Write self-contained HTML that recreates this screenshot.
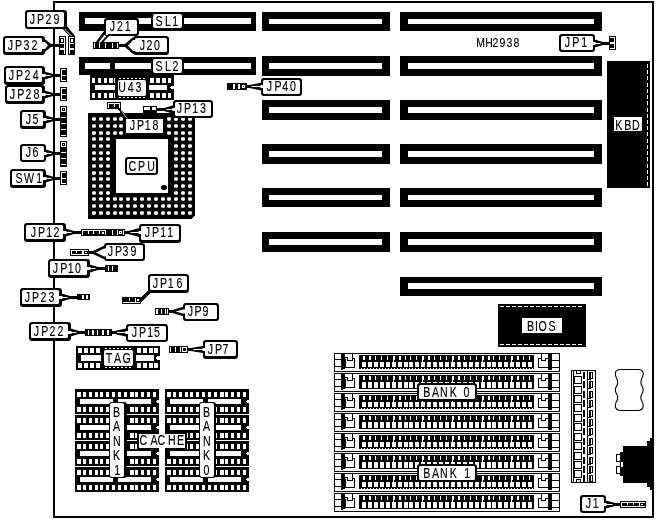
<!DOCTYPE html>
<html><head><meta charset="utf-8"><title>MH2938</title>
<style>
html,body{margin:0;padding:0;background:#fff;}
svg{display:block;will-change:transform;}
text{font-family:"Liberation Sans",sans-serif;fill:#000;stroke:#000;stroke-width:0.15px;}
</style></head>
<body>
<svg width="656" height="520" viewBox="0 0 656 520" shape-rendering="crispEdges">
<rect x="0" y="0" width="656" height="520" fill="#fff"/>
<rect x="53" y="1" width="601" height="2" fill="#000"/>
<rect x="53" y="516" width="601" height="2" fill="#000"/>
<rect x="53" y="1" width="2" height="517" fill="#000"/>
<rect x="652" y="1" width="2" height="517" fill="#000"/>
<rect x="262" y="12" width="128" height="19" fill="#000"/>
<rect x="269" y="19" width="113" height="5" fill="#fff"/>
<rect x="262" y="56" width="128" height="20" fill="#000"/>
<rect x="269" y="63" width="113" height="6" fill="#fff"/>
<rect x="262" y="100" width="128" height="20" fill="#000"/>
<rect x="269" y="107" width="113" height="6" fill="#fff"/>
<rect x="262" y="144" width="128" height="20" fill="#000"/>
<rect x="269" y="151" width="113" height="6" fill="#fff"/>
<rect x="262" y="188" width="128" height="19" fill="#000"/>
<rect x="269" y="195" width="113" height="5" fill="#fff"/>
<rect x="262" y="232" width="128" height="20" fill="#000"/>
<rect x="269" y="239" width="113" height="6" fill="#fff"/>
<rect x="400" y="12" width="202" height="19" fill="#000"/>
<rect x="408" y="19" width="186" height="5" fill="#fff"/>
<rect x="400" y="56" width="202" height="20" fill="#000"/>
<rect x="408" y="63" width="186" height="6" fill="#fff"/>
<rect x="400" y="100" width="202" height="20" fill="#000"/>
<rect x="408" y="107" width="186" height="6" fill="#fff"/>
<rect x="400" y="144" width="202" height="20" fill="#000"/>
<rect x="408" y="151" width="186" height="6" fill="#fff"/>
<rect x="400" y="188" width="202" height="19" fill="#000"/>
<rect x="408" y="195" width="186" height="5" fill="#fff"/>
<rect x="400" y="232" width="202" height="20" fill="#000"/>
<rect x="408" y="239" width="186" height="6" fill="#fff"/>
<rect x="400" y="277" width="202" height="19" fill="#000"/>
<rect x="408" y="283" width="186" height="6" fill="#fff"/>
<rect x="79" y="12" width="177" height="19" fill="#000"/>
<rect x="85" y="18" width="166" height="6" fill="#fff"/>
<rect x="79" y="57" width="177" height="18" fill="#000"/>
<rect x="85" y="63" width="166" height="6" fill="#fff"/>
<rect x="110" y="63" width="5" height="6" fill="#000"/>
<rect x="90" y="75" width="84" height="25" fill="#000"/>
<rect x="92" y="78" width="3" height="5" fill="#fff"/>
<rect x="92" y="93" width="3" height="5" fill="#fff"/>
<rect x="98" y="78" width="3" height="5" fill="#fff"/>
<rect x="98" y="93" width="3" height="5" fill="#fff"/>
<rect x="104" y="78" width="3" height="5" fill="#fff"/>
<rect x="104" y="93" width="3" height="5" fill="#fff"/>
<rect x="109" y="78" width="4" height="5" fill="#fff"/>
<rect x="109" y="93" width="4" height="5" fill="#fff"/>
<rect x="114" y="78" width="3" height="5" fill="#fff"/>
<rect x="114" y="93" width="3" height="5" fill="#fff"/>
<rect x="120" y="78" width="3" height="5" fill="#fff"/>
<rect x="120" y="93" width="3" height="5" fill="#fff"/>
<rect x="126" y="78" width="3" height="5" fill="#fff"/>
<rect x="126" y="93" width="3" height="5" fill="#fff"/>
<rect x="132" y="78" width="3" height="5" fill="#fff"/>
<rect x="132" y="93" width="3" height="5" fill="#fff"/>
<rect x="138" y="78" width="3" height="5" fill="#fff"/>
<rect x="138" y="93" width="3" height="5" fill="#fff"/>
<rect x="144" y="78" width="3" height="5" fill="#fff"/>
<rect x="144" y="93" width="3" height="5" fill="#fff"/>
<rect x="150" y="78" width="4" height="5" fill="#fff"/>
<rect x="150" y="93" width="4" height="5" fill="#fff"/>
<rect x="156" y="78" width="4" height="5" fill="#fff"/>
<rect x="156" y="93" width="4" height="5" fill="#fff"/>
<rect x="162" y="78" width="4" height="5" fill="#fff"/>
<rect x="162" y="93" width="4" height="5" fill="#fff"/>
<rect x="168" y="78" width="3" height="5" fill="#fff"/>
<rect x="168" y="93" width="3" height="5" fill="#fff"/>
<rect x="95" y="85" width="72" height="5" fill="#fff"/>
<rect x="171" y="86" width="3" height="3" fill="#fff"/>
<rect x="170" y="87" width="1" height="1" fill="#fff"/>
<polygon points="88,113 195,113 195,215 191,219 88,219" fill="#000"/>
<rect x="92.1" y="117.2" width="3.8" height="3.6" rx="1.2" fill="#fff" shape-rendering="geometricPrecision"/>
<rect x="92.1" y="124.2" width="3.8" height="3.6" rx="1.2" fill="#fff" shape-rendering="geometricPrecision"/>
<rect x="92.1" y="131.2" width="3.8" height="3.6" rx="1.2" fill="#fff" shape-rendering="geometricPrecision"/>
<rect x="92.1" y="137.2" width="3.8" height="3.6" rx="1.2" fill="#fff" shape-rendering="geometricPrecision"/>
<rect x="92.1" y="144.2" width="3.8" height="3.6" rx="1.2" fill="#fff" shape-rendering="geometricPrecision"/>
<rect x="92.1" y="151.2" width="3.8" height="3.6" rx="1.2" fill="#fff" shape-rendering="geometricPrecision"/>
<rect x="92.1" y="157.2" width="3.8" height="3.6" rx="1.2" fill="#fff" shape-rendering="geometricPrecision"/>
<rect x="92.1" y="164.2" width="3.8" height="3.6" rx="1.2" fill="#fff" shape-rendering="geometricPrecision"/>
<rect x="92.1" y="171.2" width="3.8" height="3.6" rx="1.2" fill="#fff" shape-rendering="geometricPrecision"/>
<rect x="92.1" y="177.2" width="3.8" height="3.6" rx="1.2" fill="#fff" shape-rendering="geometricPrecision"/>
<rect x="92.1" y="184.2" width="3.8" height="3.6" rx="1.2" fill="#fff" shape-rendering="geometricPrecision"/>
<rect x="92.1" y="191.2" width="3.8" height="3.6" rx="1.2" fill="#fff" shape-rendering="geometricPrecision"/>
<rect x="92.1" y="197.2" width="3.8" height="3.6" rx="1.2" fill="#fff" shape-rendering="geometricPrecision"/>
<rect x="92.1" y="204.2" width="3.8" height="3.6" rx="1.2" fill="#fff" shape-rendering="geometricPrecision"/>
<rect x="92.1" y="211.2" width="3.8" height="3.6" rx="1.2" fill="#fff" shape-rendering="geometricPrecision"/>
<rect x="99.1" y="117.2" width="3.8" height="3.6" rx="1.2" fill="#fff" shape-rendering="geometricPrecision"/>
<rect x="99.1" y="124.2" width="3.8" height="3.6" rx="1.2" fill="#fff" shape-rendering="geometricPrecision"/>
<rect x="99.1" y="131.2" width="3.8" height="3.6" rx="1.2" fill="#fff" shape-rendering="geometricPrecision"/>
<rect x="99.1" y="137.2" width="3.8" height="3.6" rx="1.2" fill="#fff" shape-rendering="geometricPrecision"/>
<rect x="99.1" y="144.2" width="3.8" height="3.6" rx="1.2" fill="#fff" shape-rendering="geometricPrecision"/>
<rect x="99.1" y="151.2" width="3.8" height="3.6" rx="1.2" fill="#fff" shape-rendering="geometricPrecision"/>
<rect x="99.1" y="157.2" width="3.8" height="3.6" rx="1.2" fill="#fff" shape-rendering="geometricPrecision"/>
<rect x="99.1" y="164.2" width="3.8" height="3.6" rx="1.2" fill="#fff" shape-rendering="geometricPrecision"/>
<rect x="99.1" y="171.2" width="3.8" height="3.6" rx="1.2" fill="#fff" shape-rendering="geometricPrecision"/>
<rect x="99.1" y="177.2" width="3.8" height="3.6" rx="1.2" fill="#fff" shape-rendering="geometricPrecision"/>
<rect x="99.1" y="184.2" width="3.8" height="3.6" rx="1.2" fill="#fff" shape-rendering="geometricPrecision"/>
<rect x="99.1" y="191.2" width="3.8" height="3.6" rx="1.2" fill="#fff" shape-rendering="geometricPrecision"/>
<rect x="99.1" y="197.2" width="3.8" height="3.6" rx="1.2" fill="#fff" shape-rendering="geometricPrecision"/>
<rect x="99.1" y="204.2" width="3.8" height="3.6" rx="1.2" fill="#fff" shape-rendering="geometricPrecision"/>
<rect x="99.1" y="211.2" width="3.8" height="3.6" rx="1.2" fill="#fff" shape-rendering="geometricPrecision"/>
<rect x="106.1" y="117.2" width="3.8" height="3.6" rx="1.2" fill="#fff" shape-rendering="geometricPrecision"/>
<rect x="106.1" y="124.2" width="3.8" height="3.6" rx="1.2" fill="#fff" shape-rendering="geometricPrecision"/>
<rect x="106.1" y="131.2" width="3.8" height="3.6" rx="1.2" fill="#fff" shape-rendering="geometricPrecision"/>
<rect x="106.1" y="137.2" width="3.8" height="3.6" rx="1.2" fill="#fff" shape-rendering="geometricPrecision"/>
<rect x="106.1" y="144.2" width="3.8" height="3.6" rx="1.2" fill="#fff" shape-rendering="geometricPrecision"/>
<rect x="106.1" y="151.2" width="3.8" height="3.6" rx="1.2" fill="#fff" shape-rendering="geometricPrecision"/>
<rect x="106.1" y="157.2" width="3.8" height="3.6" rx="1.2" fill="#fff" shape-rendering="geometricPrecision"/>
<rect x="106.1" y="164.2" width="3.8" height="3.6" rx="1.2" fill="#fff" shape-rendering="geometricPrecision"/>
<rect x="106.1" y="171.2" width="3.8" height="3.6" rx="1.2" fill="#fff" shape-rendering="geometricPrecision"/>
<rect x="106.1" y="177.2" width="3.8" height="3.6" rx="1.2" fill="#fff" shape-rendering="geometricPrecision"/>
<rect x="106.1" y="184.2" width="3.8" height="3.6" rx="1.2" fill="#fff" shape-rendering="geometricPrecision"/>
<rect x="106.1" y="191.2" width="3.8" height="3.6" rx="1.2" fill="#fff" shape-rendering="geometricPrecision"/>
<rect x="106.1" y="197.2" width="3.8" height="3.6" rx="1.2" fill="#fff" shape-rendering="geometricPrecision"/>
<rect x="106.1" y="204.2" width="3.8" height="3.6" rx="1.2" fill="#fff" shape-rendering="geometricPrecision"/>
<rect x="106.1" y="211.2" width="3.8" height="3.6" rx="1.2" fill="#fff" shape-rendering="geometricPrecision"/>
<rect x="113.1" y="117.2" width="3.8" height="3.6" rx="1.2" fill="#fff" shape-rendering="geometricPrecision"/>
<rect x="113.1" y="124.2" width="3.8" height="3.6" rx="1.2" fill="#fff" shape-rendering="geometricPrecision"/>
<rect x="113.1" y="131.2" width="3.8" height="3.6" rx="1.2" fill="#fff" shape-rendering="geometricPrecision"/>
<rect x="113.1" y="197.2" width="3.8" height="3.6" rx="1.2" fill="#fff" shape-rendering="geometricPrecision"/>
<rect x="113.1" y="204.2" width="3.8" height="3.6" rx="1.2" fill="#fff" shape-rendering="geometricPrecision"/>
<rect x="113.1" y="211.2" width="3.8" height="3.6" rx="1.2" fill="#fff" shape-rendering="geometricPrecision"/>
<rect x="119.1" y="117.2" width="3.8" height="3.6" rx="1.2" fill="#fff" shape-rendering="geometricPrecision"/>
<rect x="119.1" y="124.2" width="3.8" height="3.6" rx="1.2" fill="#fff" shape-rendering="geometricPrecision"/>
<rect x="119.1" y="131.2" width="3.8" height="3.6" rx="1.2" fill="#fff" shape-rendering="geometricPrecision"/>
<rect x="119.1" y="197.2" width="3.8" height="3.6" rx="1.2" fill="#fff" shape-rendering="geometricPrecision"/>
<rect x="119.1" y="204.2" width="3.8" height="3.6" rx="1.2" fill="#fff" shape-rendering="geometricPrecision"/>
<rect x="119.1" y="211.2" width="3.8" height="3.6" rx="1.2" fill="#fff" shape-rendering="geometricPrecision"/>
<rect x="126.1" y="117.2" width="3.8" height="3.6" rx="1.2" fill="#fff" shape-rendering="geometricPrecision"/>
<rect x="126.1" y="124.2" width="3.8" height="3.6" rx="1.2" fill="#fff" shape-rendering="geometricPrecision"/>
<rect x="126.1" y="131.2" width="3.8" height="3.6" rx="1.2" fill="#fff" shape-rendering="geometricPrecision"/>
<rect x="126.1" y="197.2" width="3.8" height="3.6" rx="1.2" fill="#fff" shape-rendering="geometricPrecision"/>
<rect x="126.1" y="204.2" width="3.8" height="3.6" rx="1.2" fill="#fff" shape-rendering="geometricPrecision"/>
<rect x="126.1" y="211.2" width="3.8" height="3.6" rx="1.2" fill="#fff" shape-rendering="geometricPrecision"/>
<rect x="133.1" y="117.2" width="3.8" height="3.6" rx="1.2" fill="#fff" shape-rendering="geometricPrecision"/>
<rect x="133.1" y="124.2" width="3.8" height="3.6" rx="1.2" fill="#fff" shape-rendering="geometricPrecision"/>
<rect x="133.1" y="131.2" width="3.8" height="3.6" rx="1.2" fill="#fff" shape-rendering="geometricPrecision"/>
<rect x="133.1" y="197.2" width="3.8" height="3.6" rx="1.2" fill="#fff" shape-rendering="geometricPrecision"/>
<rect x="133.1" y="204.2" width="3.8" height="3.6" rx="1.2" fill="#fff" shape-rendering="geometricPrecision"/>
<rect x="133.1" y="211.2" width="3.8" height="3.6" rx="1.2" fill="#fff" shape-rendering="geometricPrecision"/>
<rect x="140.1" y="117.2" width="3.8" height="3.6" rx="1.2" fill="#fff" shape-rendering="geometricPrecision"/>
<rect x="140.1" y="124.2" width="3.8" height="3.6" rx="1.2" fill="#fff" shape-rendering="geometricPrecision"/>
<rect x="140.1" y="131.2" width="3.8" height="3.6" rx="1.2" fill="#fff" shape-rendering="geometricPrecision"/>
<rect x="140.1" y="197.2" width="3.8" height="3.6" rx="1.2" fill="#fff" shape-rendering="geometricPrecision"/>
<rect x="140.1" y="204.2" width="3.8" height="3.6" rx="1.2" fill="#fff" shape-rendering="geometricPrecision"/>
<rect x="140.1" y="211.2" width="3.8" height="3.6" rx="1.2" fill="#fff" shape-rendering="geometricPrecision"/>
<rect x="147.1" y="117.2" width="3.8" height="3.6" rx="1.2" fill="#fff" shape-rendering="geometricPrecision"/>
<rect x="147.1" y="124.2" width="3.8" height="3.6" rx="1.2" fill="#fff" shape-rendering="geometricPrecision"/>
<rect x="147.1" y="131.2" width="3.8" height="3.6" rx="1.2" fill="#fff" shape-rendering="geometricPrecision"/>
<rect x="147.1" y="197.2" width="3.8" height="3.6" rx="1.2" fill="#fff" shape-rendering="geometricPrecision"/>
<rect x="147.1" y="204.2" width="3.8" height="3.6" rx="1.2" fill="#fff" shape-rendering="geometricPrecision"/>
<rect x="147.1" y="211.2" width="3.8" height="3.6" rx="1.2" fill="#fff" shape-rendering="geometricPrecision"/>
<rect x="154.1" y="117.2" width="3.8" height="3.6" rx="1.2" fill="#fff" shape-rendering="geometricPrecision"/>
<rect x="154.1" y="124.2" width="3.8" height="3.6" rx="1.2" fill="#fff" shape-rendering="geometricPrecision"/>
<rect x="154.1" y="131.2" width="3.8" height="3.6" rx="1.2" fill="#fff" shape-rendering="geometricPrecision"/>
<rect x="154.1" y="197.2" width="3.8" height="3.6" rx="1.2" fill="#fff" shape-rendering="geometricPrecision"/>
<rect x="154.1" y="204.2" width="3.8" height="3.6" rx="1.2" fill="#fff" shape-rendering="geometricPrecision"/>
<rect x="154.1" y="211.2" width="3.8" height="3.6" rx="1.2" fill="#fff" shape-rendering="geometricPrecision"/>
<rect x="161.1" y="117.2" width="3.8" height="3.6" rx="1.2" fill="#fff" shape-rendering="geometricPrecision"/>
<rect x="161.1" y="124.2" width="3.8" height="3.6" rx="1.2" fill="#fff" shape-rendering="geometricPrecision"/>
<rect x="161.1" y="131.2" width="3.8" height="3.6" rx="1.2" fill="#fff" shape-rendering="geometricPrecision"/>
<rect x="161.1" y="197.2" width="3.8" height="3.6" rx="1.2" fill="#fff" shape-rendering="geometricPrecision"/>
<rect x="161.1" y="204.2" width="3.8" height="3.6" rx="1.2" fill="#fff" shape-rendering="geometricPrecision"/>
<rect x="161.1" y="211.2" width="3.8" height="3.6" rx="1.2" fill="#fff" shape-rendering="geometricPrecision"/>
<rect x="167.1" y="117.2" width="3.8" height="3.6" rx="1.2" fill="#fff" shape-rendering="geometricPrecision"/>
<rect x="167.1" y="124.2" width="3.8" height="3.6" rx="1.2" fill="#fff" shape-rendering="geometricPrecision"/>
<rect x="167.1" y="131.2" width="3.8" height="3.6" rx="1.2" fill="#fff" shape-rendering="geometricPrecision"/>
<rect x="167.1" y="197.2" width="3.8" height="3.6" rx="1.2" fill="#fff" shape-rendering="geometricPrecision"/>
<rect x="167.1" y="204.2" width="3.8" height="3.6" rx="1.2" fill="#fff" shape-rendering="geometricPrecision"/>
<rect x="167.1" y="211.2" width="3.8" height="3.6" rx="1.2" fill="#fff" shape-rendering="geometricPrecision"/>
<rect x="174.1" y="117.2" width="3.8" height="3.6" rx="1.2" fill="#fff" shape-rendering="geometricPrecision"/>
<rect x="174.1" y="124.2" width="3.8" height="3.6" rx="1.2" fill="#fff" shape-rendering="geometricPrecision"/>
<rect x="174.1" y="131.2" width="3.8" height="3.6" rx="1.2" fill="#fff" shape-rendering="geometricPrecision"/>
<rect x="174.1" y="137.2" width="3.8" height="3.6" rx="1.2" fill="#fff" shape-rendering="geometricPrecision"/>
<rect x="174.1" y="144.2" width="3.8" height="3.6" rx="1.2" fill="#fff" shape-rendering="geometricPrecision"/>
<rect x="174.1" y="151.2" width="3.8" height="3.6" rx="1.2" fill="#fff" shape-rendering="geometricPrecision"/>
<rect x="174.1" y="157.2" width="3.8" height="3.6" rx="1.2" fill="#fff" shape-rendering="geometricPrecision"/>
<rect x="174.1" y="164.2" width="3.8" height="3.6" rx="1.2" fill="#fff" shape-rendering="geometricPrecision"/>
<rect x="174.1" y="171.2" width="3.8" height="3.6" rx="1.2" fill="#fff" shape-rendering="geometricPrecision"/>
<rect x="174.1" y="177.2" width="3.8" height="3.6" rx="1.2" fill="#fff" shape-rendering="geometricPrecision"/>
<rect x="174.1" y="184.2" width="3.8" height="3.6" rx="1.2" fill="#fff" shape-rendering="geometricPrecision"/>
<rect x="174.1" y="191.2" width="3.8" height="3.6" rx="1.2" fill="#fff" shape-rendering="geometricPrecision"/>
<rect x="174.1" y="197.2" width="3.8" height="3.6" rx="1.2" fill="#fff" shape-rendering="geometricPrecision"/>
<rect x="174.1" y="204.2" width="3.8" height="3.6" rx="1.2" fill="#fff" shape-rendering="geometricPrecision"/>
<rect x="174.1" y="211.2" width="3.8" height="3.6" rx="1.2" fill="#fff" shape-rendering="geometricPrecision"/>
<rect x="181.1" y="117.2" width="3.8" height="3.6" rx="1.2" fill="#fff" shape-rendering="geometricPrecision"/>
<rect x="181.1" y="124.2" width="3.8" height="3.6" rx="1.2" fill="#fff" shape-rendering="geometricPrecision"/>
<rect x="181.1" y="131.2" width="3.8" height="3.6" rx="1.2" fill="#fff" shape-rendering="geometricPrecision"/>
<rect x="181.1" y="137.2" width="3.8" height="3.6" rx="1.2" fill="#fff" shape-rendering="geometricPrecision"/>
<rect x="181.1" y="144.2" width="3.8" height="3.6" rx="1.2" fill="#fff" shape-rendering="geometricPrecision"/>
<rect x="181.1" y="151.2" width="3.8" height="3.6" rx="1.2" fill="#fff" shape-rendering="geometricPrecision"/>
<rect x="181.1" y="157.2" width="3.8" height="3.6" rx="1.2" fill="#fff" shape-rendering="geometricPrecision"/>
<rect x="181.1" y="164.2" width="3.8" height="3.6" rx="1.2" fill="#fff" shape-rendering="geometricPrecision"/>
<rect x="181.1" y="171.2" width="3.8" height="3.6" rx="1.2" fill="#fff" shape-rendering="geometricPrecision"/>
<rect x="181.1" y="177.2" width="3.8" height="3.6" rx="1.2" fill="#fff" shape-rendering="geometricPrecision"/>
<rect x="181.1" y="184.2" width="3.8" height="3.6" rx="1.2" fill="#fff" shape-rendering="geometricPrecision"/>
<rect x="181.1" y="191.2" width="3.8" height="3.6" rx="1.2" fill="#fff" shape-rendering="geometricPrecision"/>
<rect x="181.1" y="197.2" width="3.8" height="3.6" rx="1.2" fill="#fff" shape-rendering="geometricPrecision"/>
<rect x="181.1" y="204.2" width="3.8" height="3.6" rx="1.2" fill="#fff" shape-rendering="geometricPrecision"/>
<rect x="181.1" y="211.2" width="3.8" height="3.6" rx="1.2" fill="#fff" shape-rendering="geometricPrecision"/>
<rect x="188.1" y="117.2" width="3.8" height="3.6" rx="1.2" fill="#fff" shape-rendering="geometricPrecision"/>
<rect x="188.1" y="124.2" width="3.8" height="3.6" rx="1.2" fill="#fff" shape-rendering="geometricPrecision"/>
<rect x="188.1" y="131.2" width="3.8" height="3.6" rx="1.2" fill="#fff" shape-rendering="geometricPrecision"/>
<rect x="188.1" y="137.2" width="3.8" height="3.6" rx="1.2" fill="#fff" shape-rendering="geometricPrecision"/>
<rect x="188.1" y="144.2" width="3.8" height="3.6" rx="1.2" fill="#fff" shape-rendering="geometricPrecision"/>
<rect x="188.1" y="151.2" width="3.8" height="3.6" rx="1.2" fill="#fff" shape-rendering="geometricPrecision"/>
<rect x="188.1" y="157.2" width="3.8" height="3.6" rx="1.2" fill="#fff" shape-rendering="geometricPrecision"/>
<rect x="188.1" y="164.2" width="3.8" height="3.6" rx="1.2" fill="#fff" shape-rendering="geometricPrecision"/>
<rect x="188.1" y="171.2" width="3.8" height="3.6" rx="1.2" fill="#fff" shape-rendering="geometricPrecision"/>
<rect x="188.1" y="177.2" width="3.8" height="3.6" rx="1.2" fill="#fff" shape-rendering="geometricPrecision"/>
<rect x="188.1" y="184.2" width="3.8" height="3.6" rx="1.2" fill="#fff" shape-rendering="geometricPrecision"/>
<rect x="188.1" y="191.2" width="3.8" height="3.6" rx="1.2" fill="#fff" shape-rendering="geometricPrecision"/>
<rect x="188.1" y="197.2" width="3.8" height="3.6" rx="1.2" fill="#fff" shape-rendering="geometricPrecision"/>
<rect x="188.1" y="204.2" width="3.8" height="3.6" rx="1.2" fill="#fff" shape-rendering="geometricPrecision"/>
<rect x="188.1" y="211.2" width="3.8" height="3.6" rx="1.2" fill="#fff" shape-rendering="geometricPrecision"/>
<rect x="116" y="139" width="52" height="54" fill="#fff"/>
<ellipse cx="164" cy="187.5" rx="3.1" ry="2.6" fill="#000" shape-rendering="geometricPrecision"/>
<rect x="76" y="346" width="84" height="24" fill="#000"/>
<rect x="78" y="348" width="4" height="5" fill="#fff"/>
<rect x="78" y="363" width="4" height="5" fill="#fff"/>
<rect x="84" y="348" width="4" height="5" fill="#fff"/>
<rect x="84" y="363" width="4" height="5" fill="#fff"/>
<rect x="90" y="348" width="4" height="5" fill="#fff"/>
<rect x="90" y="363" width="4" height="5" fill="#fff"/>
<rect x="96" y="348" width="4" height="5" fill="#fff"/>
<rect x="96" y="363" width="4" height="5" fill="#fff"/>
<rect x="102" y="348" width="3" height="5" fill="#fff"/>
<rect x="102" y="363" width="3" height="5" fill="#fff"/>
<rect x="108" y="348" width="3" height="5" fill="#fff"/>
<rect x="108" y="363" width="3" height="5" fill="#fff"/>
<rect x="114" y="348" width="3" height="5" fill="#fff"/>
<rect x="114" y="363" width="3" height="5" fill="#fff"/>
<rect x="120" y="348" width="3" height="5" fill="#fff"/>
<rect x="120" y="363" width="3" height="5" fill="#fff"/>
<rect x="126" y="348" width="3" height="5" fill="#fff"/>
<rect x="126" y="363" width="3" height="5" fill="#fff"/>
<rect x="131" y="348" width="4" height="5" fill="#fff"/>
<rect x="131" y="363" width="4" height="5" fill="#fff"/>
<rect x="137" y="348" width="4" height="5" fill="#fff"/>
<rect x="137" y="363" width="4" height="5" fill="#fff"/>
<rect x="143" y="348" width="4" height="5" fill="#fff"/>
<rect x="143" y="363" width="4" height="5" fill="#fff"/>
<rect x="149" y="348" width="4" height="5" fill="#fff"/>
<rect x="149" y="363" width="4" height="5" fill="#fff"/>
<rect x="154" y="348" width="4" height="5" fill="#fff"/>
<rect x="154" y="363" width="4" height="5" fill="#fff"/>
<rect x="81" y="355" width="73" height="6" fill="#fff"/>
<rect x="157" y="356" width="3" height="4" fill="#fff"/>
<rect x="156" y="357" width="1" height="2" fill="#fff"/>
<rect x="75" y="389" width="84" height="25" fill="#000"/>
<rect x="77" y="392" width="4" height="5" fill="#fff"/>
<rect x="77" y="407" width="4" height="5" fill="#fff"/>
<rect x="83" y="392" width="3" height="5" fill="#fff"/>
<rect x="83" y="407" width="3" height="5" fill="#fff"/>
<rect x="89" y="392" width="3" height="5" fill="#fff"/>
<rect x="89" y="407" width="3" height="5" fill="#fff"/>
<rect x="95" y="392" width="3" height="5" fill="#fff"/>
<rect x="95" y="407" width="3" height="5" fill="#fff"/>
<rect x="100" y="392" width="3" height="5" fill="#fff"/>
<rect x="100" y="407" width="3" height="5" fill="#fff"/>
<rect x="106" y="392" width="3" height="5" fill="#fff"/>
<rect x="106" y="407" width="3" height="5" fill="#fff"/>
<rect x="112" y="392" width="3" height="5" fill="#fff"/>
<rect x="112" y="407" width="3" height="5" fill="#fff"/>
<rect x="118" y="392" width="3" height="5" fill="#fff"/>
<rect x="118" y="407" width="3" height="5" fill="#fff"/>
<rect x="124" y="392" width="3" height="5" fill="#fff"/>
<rect x="124" y="407" width="3" height="5" fill="#fff"/>
<rect x="130" y="392" width="4" height="5" fill="#fff"/>
<rect x="130" y="407" width="4" height="5" fill="#fff"/>
<rect x="135" y="392" width="3" height="5" fill="#fff"/>
<rect x="135" y="407" width="3" height="5" fill="#fff"/>
<rect x="141" y="392" width="3" height="5" fill="#fff"/>
<rect x="141" y="407" width="3" height="5" fill="#fff"/>
<rect x="147" y="392" width="3" height="5" fill="#fff"/>
<rect x="147" y="407" width="3" height="5" fill="#fff"/>
<rect x="153" y="392" width="3" height="5" fill="#fff"/>
<rect x="153" y="407" width="3" height="5" fill="#fff"/>
<rect x="80" y="399" width="33" height="5" fill="#fff"/>
<rect x="118" y="399" width="33" height="5" fill="#fff"/>
<polygon points="159,399.5 157,400 156,401.5 157,403 159,403.5" fill="#fff"/>
<rect x="75" y="415" width="84" height="25" fill="#000"/>
<rect x="77" y="418" width="4" height="5" fill="#fff"/>
<rect x="77" y="433" width="4" height="5" fill="#fff"/>
<rect x="83" y="418" width="3" height="5" fill="#fff"/>
<rect x="83" y="433" width="3" height="5" fill="#fff"/>
<rect x="89" y="418" width="3" height="5" fill="#fff"/>
<rect x="89" y="433" width="3" height="5" fill="#fff"/>
<rect x="95" y="418" width="3" height="5" fill="#fff"/>
<rect x="95" y="433" width="3" height="5" fill="#fff"/>
<rect x="100" y="418" width="3" height="5" fill="#fff"/>
<rect x="100" y="433" width="3" height="5" fill="#fff"/>
<rect x="106" y="418" width="3" height="5" fill="#fff"/>
<rect x="106" y="433" width="3" height="5" fill="#fff"/>
<rect x="112" y="418" width="3" height="5" fill="#fff"/>
<rect x="112" y="433" width="3" height="5" fill="#fff"/>
<rect x="118" y="418" width="3" height="5" fill="#fff"/>
<rect x="118" y="433" width="3" height="5" fill="#fff"/>
<rect x="124" y="418" width="3" height="5" fill="#fff"/>
<rect x="124" y="433" width="3" height="5" fill="#fff"/>
<rect x="130" y="418" width="4" height="5" fill="#fff"/>
<rect x="130" y="433" width="4" height="5" fill="#fff"/>
<rect x="135" y="418" width="3" height="5" fill="#fff"/>
<rect x="135" y="433" width="3" height="5" fill="#fff"/>
<rect x="141" y="418" width="3" height="5" fill="#fff"/>
<rect x="141" y="433" width="3" height="5" fill="#fff"/>
<rect x="147" y="418" width="3" height="5" fill="#fff"/>
<rect x="147" y="433" width="3" height="5" fill="#fff"/>
<rect x="153" y="418" width="3" height="5" fill="#fff"/>
<rect x="153" y="433" width="3" height="5" fill="#fff"/>
<rect x="80" y="425" width="33" height="5" fill="#fff"/>
<rect x="118" y="425" width="33" height="5" fill="#fff"/>
<polygon points="159,425.5 157,426 156,427.5 157,429 159,429.5" fill="#fff"/>
<rect x="75" y="441" width="84" height="25" fill="#000"/>
<rect x="77" y="444" width="4" height="5" fill="#fff"/>
<rect x="77" y="459" width="4" height="5" fill="#fff"/>
<rect x="83" y="444" width="3" height="5" fill="#fff"/>
<rect x="83" y="459" width="3" height="5" fill="#fff"/>
<rect x="89" y="444" width="3" height="5" fill="#fff"/>
<rect x="89" y="459" width="3" height="5" fill="#fff"/>
<rect x="95" y="444" width="3" height="5" fill="#fff"/>
<rect x="95" y="459" width="3" height="5" fill="#fff"/>
<rect x="100" y="444" width="3" height="5" fill="#fff"/>
<rect x="100" y="459" width="3" height="5" fill="#fff"/>
<rect x="106" y="444" width="3" height="5" fill="#fff"/>
<rect x="106" y="459" width="3" height="5" fill="#fff"/>
<rect x="112" y="444" width="3" height="5" fill="#fff"/>
<rect x="112" y="459" width="3" height="5" fill="#fff"/>
<rect x="118" y="444" width="3" height="5" fill="#fff"/>
<rect x="118" y="459" width="3" height="5" fill="#fff"/>
<rect x="124" y="444" width="3" height="5" fill="#fff"/>
<rect x="124" y="459" width="3" height="5" fill="#fff"/>
<rect x="130" y="444" width="4" height="5" fill="#fff"/>
<rect x="130" y="459" width="4" height="5" fill="#fff"/>
<rect x="135" y="444" width="3" height="5" fill="#fff"/>
<rect x="135" y="459" width="3" height="5" fill="#fff"/>
<rect x="141" y="444" width="3" height="5" fill="#fff"/>
<rect x="141" y="459" width="3" height="5" fill="#fff"/>
<rect x="147" y="444" width="3" height="5" fill="#fff"/>
<rect x="147" y="459" width="3" height="5" fill="#fff"/>
<rect x="153" y="444" width="3" height="5" fill="#fff"/>
<rect x="153" y="459" width="3" height="5" fill="#fff"/>
<rect x="80" y="451" width="33" height="5" fill="#fff"/>
<rect x="118" y="451" width="33" height="5" fill="#fff"/>
<polygon points="159,451.5 157,452 156,453.5 157,455 159,455.5" fill="#fff"/>
<rect x="75" y="467" width="84" height="25" fill="#000"/>
<rect x="77" y="470" width="4" height="5" fill="#fff"/>
<rect x="77" y="485" width="4" height="5" fill="#fff"/>
<rect x="83" y="470" width="3" height="5" fill="#fff"/>
<rect x="83" y="485" width="3" height="5" fill="#fff"/>
<rect x="89" y="470" width="3" height="5" fill="#fff"/>
<rect x="89" y="485" width="3" height="5" fill="#fff"/>
<rect x="95" y="470" width="3" height="5" fill="#fff"/>
<rect x="95" y="485" width="3" height="5" fill="#fff"/>
<rect x="100" y="470" width="3" height="5" fill="#fff"/>
<rect x="100" y="485" width="3" height="5" fill="#fff"/>
<rect x="106" y="470" width="3" height="5" fill="#fff"/>
<rect x="106" y="485" width="3" height="5" fill="#fff"/>
<rect x="112" y="470" width="3" height="5" fill="#fff"/>
<rect x="112" y="485" width="3" height="5" fill="#fff"/>
<rect x="118" y="470" width="3" height="5" fill="#fff"/>
<rect x="118" y="485" width="3" height="5" fill="#fff"/>
<rect x="124" y="470" width="3" height="5" fill="#fff"/>
<rect x="124" y="485" width="3" height="5" fill="#fff"/>
<rect x="130" y="470" width="4" height="5" fill="#fff"/>
<rect x="130" y="485" width="4" height="5" fill="#fff"/>
<rect x="135" y="470" width="3" height="5" fill="#fff"/>
<rect x="135" y="485" width="3" height="5" fill="#fff"/>
<rect x="141" y="470" width="3" height="5" fill="#fff"/>
<rect x="141" y="485" width="3" height="5" fill="#fff"/>
<rect x="147" y="470" width="3" height="5" fill="#fff"/>
<rect x="147" y="485" width="3" height="5" fill="#fff"/>
<rect x="153" y="470" width="3" height="5" fill="#fff"/>
<rect x="153" y="485" width="3" height="5" fill="#fff"/>
<rect x="80" y="477" width="33" height="5" fill="#fff"/>
<rect x="118" y="477" width="33" height="5" fill="#fff"/>
<polygon points="159,477.5 157,478 156,479.5 157,481 159,481.5" fill="#fff"/>
<rect x="165" y="389" width="84" height="25" fill="#000"/>
<rect x="167" y="392" width="4" height="5" fill="#fff"/>
<rect x="167" y="407" width="4" height="5" fill="#fff"/>
<rect x="173" y="392" width="3" height="5" fill="#fff"/>
<rect x="173" y="407" width="3" height="5" fill="#fff"/>
<rect x="179" y="392" width="3" height="5" fill="#fff"/>
<rect x="179" y="407" width="3" height="5" fill="#fff"/>
<rect x="185" y="392" width="3" height="5" fill="#fff"/>
<rect x="185" y="407" width="3" height="5" fill="#fff"/>
<rect x="190" y="392" width="3" height="5" fill="#fff"/>
<rect x="190" y="407" width="3" height="5" fill="#fff"/>
<rect x="196" y="392" width="3" height="5" fill="#fff"/>
<rect x="196" y="407" width="3" height="5" fill="#fff"/>
<rect x="202" y="392" width="3" height="5" fill="#fff"/>
<rect x="202" y="407" width="3" height="5" fill="#fff"/>
<rect x="208" y="392" width="3" height="5" fill="#fff"/>
<rect x="208" y="407" width="3" height="5" fill="#fff"/>
<rect x="214" y="392" width="3" height="5" fill="#fff"/>
<rect x="214" y="407" width="3" height="5" fill="#fff"/>
<rect x="220" y="392" width="4" height="5" fill="#fff"/>
<rect x="220" y="407" width="4" height="5" fill="#fff"/>
<rect x="225" y="392" width="3" height="5" fill="#fff"/>
<rect x="225" y="407" width="3" height="5" fill="#fff"/>
<rect x="231" y="392" width="3" height="5" fill="#fff"/>
<rect x="231" y="407" width="3" height="5" fill="#fff"/>
<rect x="237" y="392" width="3" height="5" fill="#fff"/>
<rect x="237" y="407" width="3" height="5" fill="#fff"/>
<rect x="243" y="392" width="3" height="5" fill="#fff"/>
<rect x="243" y="407" width="3" height="5" fill="#fff"/>
<rect x="170" y="399" width="33" height="5" fill="#fff"/>
<rect x="208" y="399" width="33" height="5" fill="#fff"/>
<polygon points="249,399.5 247,400 246,401.5 247,403 249,403.5" fill="#fff"/>
<rect x="165" y="415" width="84" height="25" fill="#000"/>
<rect x="167" y="418" width="4" height="5" fill="#fff"/>
<rect x="167" y="433" width="4" height="5" fill="#fff"/>
<rect x="173" y="418" width="3" height="5" fill="#fff"/>
<rect x="173" y="433" width="3" height="5" fill="#fff"/>
<rect x="179" y="418" width="3" height="5" fill="#fff"/>
<rect x="179" y="433" width="3" height="5" fill="#fff"/>
<rect x="185" y="418" width="3" height="5" fill="#fff"/>
<rect x="185" y="433" width="3" height="5" fill="#fff"/>
<rect x="190" y="418" width="3" height="5" fill="#fff"/>
<rect x="190" y="433" width="3" height="5" fill="#fff"/>
<rect x="196" y="418" width="3" height="5" fill="#fff"/>
<rect x="196" y="433" width="3" height="5" fill="#fff"/>
<rect x="202" y="418" width="3" height="5" fill="#fff"/>
<rect x="202" y="433" width="3" height="5" fill="#fff"/>
<rect x="208" y="418" width="3" height="5" fill="#fff"/>
<rect x="208" y="433" width="3" height="5" fill="#fff"/>
<rect x="214" y="418" width="3" height="5" fill="#fff"/>
<rect x="214" y="433" width="3" height="5" fill="#fff"/>
<rect x="220" y="418" width="4" height="5" fill="#fff"/>
<rect x="220" y="433" width="4" height="5" fill="#fff"/>
<rect x="225" y="418" width="3" height="5" fill="#fff"/>
<rect x="225" y="433" width="3" height="5" fill="#fff"/>
<rect x="231" y="418" width="3" height="5" fill="#fff"/>
<rect x="231" y="433" width="3" height="5" fill="#fff"/>
<rect x="237" y="418" width="3" height="5" fill="#fff"/>
<rect x="237" y="433" width="3" height="5" fill="#fff"/>
<rect x="243" y="418" width="3" height="5" fill="#fff"/>
<rect x="243" y="433" width="3" height="5" fill="#fff"/>
<rect x="170" y="425" width="33" height="5" fill="#fff"/>
<rect x="208" y="425" width="33" height="5" fill="#fff"/>
<polygon points="249,425.5 247,426 246,427.5 247,429 249,429.5" fill="#fff"/>
<rect x="165" y="441" width="84" height="25" fill="#000"/>
<rect x="167" y="444" width="4" height="5" fill="#fff"/>
<rect x="167" y="459" width="4" height="5" fill="#fff"/>
<rect x="173" y="444" width="3" height="5" fill="#fff"/>
<rect x="173" y="459" width="3" height="5" fill="#fff"/>
<rect x="179" y="444" width="3" height="5" fill="#fff"/>
<rect x="179" y="459" width="3" height="5" fill="#fff"/>
<rect x="185" y="444" width="3" height="5" fill="#fff"/>
<rect x="185" y="459" width="3" height="5" fill="#fff"/>
<rect x="190" y="444" width="3" height="5" fill="#fff"/>
<rect x="190" y="459" width="3" height="5" fill="#fff"/>
<rect x="196" y="444" width="3" height="5" fill="#fff"/>
<rect x="196" y="459" width="3" height="5" fill="#fff"/>
<rect x="202" y="444" width="3" height="5" fill="#fff"/>
<rect x="202" y="459" width="3" height="5" fill="#fff"/>
<rect x="208" y="444" width="3" height="5" fill="#fff"/>
<rect x="208" y="459" width="3" height="5" fill="#fff"/>
<rect x="214" y="444" width="3" height="5" fill="#fff"/>
<rect x="214" y="459" width="3" height="5" fill="#fff"/>
<rect x="220" y="444" width="4" height="5" fill="#fff"/>
<rect x="220" y="459" width="4" height="5" fill="#fff"/>
<rect x="225" y="444" width="3" height="5" fill="#fff"/>
<rect x="225" y="459" width="3" height="5" fill="#fff"/>
<rect x="231" y="444" width="3" height="5" fill="#fff"/>
<rect x="231" y="459" width="3" height="5" fill="#fff"/>
<rect x="237" y="444" width="3" height="5" fill="#fff"/>
<rect x="237" y="459" width="3" height="5" fill="#fff"/>
<rect x="243" y="444" width="3" height="5" fill="#fff"/>
<rect x="243" y="459" width="3" height="5" fill="#fff"/>
<rect x="170" y="451" width="33" height="5" fill="#fff"/>
<rect x="208" y="451" width="33" height="5" fill="#fff"/>
<polygon points="249,451.5 247,452 246,453.5 247,455 249,455.5" fill="#fff"/>
<rect x="165" y="467" width="84" height="25" fill="#000"/>
<rect x="167" y="470" width="4" height="5" fill="#fff"/>
<rect x="167" y="485" width="4" height="5" fill="#fff"/>
<rect x="173" y="470" width="3" height="5" fill="#fff"/>
<rect x="173" y="485" width="3" height="5" fill="#fff"/>
<rect x="179" y="470" width="3" height="5" fill="#fff"/>
<rect x="179" y="485" width="3" height="5" fill="#fff"/>
<rect x="185" y="470" width="3" height="5" fill="#fff"/>
<rect x="185" y="485" width="3" height="5" fill="#fff"/>
<rect x="190" y="470" width="3" height="5" fill="#fff"/>
<rect x="190" y="485" width="3" height="5" fill="#fff"/>
<rect x="196" y="470" width="3" height="5" fill="#fff"/>
<rect x="196" y="485" width="3" height="5" fill="#fff"/>
<rect x="202" y="470" width="3" height="5" fill="#fff"/>
<rect x="202" y="485" width="3" height="5" fill="#fff"/>
<rect x="208" y="470" width="3" height="5" fill="#fff"/>
<rect x="208" y="485" width="3" height="5" fill="#fff"/>
<rect x="214" y="470" width="3" height="5" fill="#fff"/>
<rect x="214" y="485" width="3" height="5" fill="#fff"/>
<rect x="220" y="470" width="4" height="5" fill="#fff"/>
<rect x="220" y="485" width="4" height="5" fill="#fff"/>
<rect x="225" y="470" width="3" height="5" fill="#fff"/>
<rect x="225" y="485" width="3" height="5" fill="#fff"/>
<rect x="231" y="470" width="3" height="5" fill="#fff"/>
<rect x="231" y="485" width="3" height="5" fill="#fff"/>
<rect x="237" y="470" width="3" height="5" fill="#fff"/>
<rect x="237" y="485" width="3" height="5" fill="#fff"/>
<rect x="243" y="470" width="3" height="5" fill="#fff"/>
<rect x="243" y="485" width="3" height="5" fill="#fff"/>
<rect x="170" y="477" width="33" height="5" fill="#fff"/>
<rect x="208" y="477" width="33" height="5" fill="#fff"/>
<polygon points="249,477.5 247,478 246,479.5 247,481 249,481.5" fill="#fff"/>
<rect x="334" y="353" width="226" height="19" fill="#000"/>
<rect x="335" y="354" width="224" height="17" fill="#fff"/>
<rect x="335" y="359" width="6" height="1" fill="#000"/>
<rect x="335" y="366" width="6" height="1" fill="#000"/>
<rect x="341" y="353" width="4" height="16" fill="#000"/>
<rect x="341" y="369" width="2" height="1" fill="#000"/>
<rect x="345" y="357" width="3" height="1" fill="#000"/>
<rect x="347" y="357" width="1" height="4" fill="#000"/>
<rect x="347" y="360" width="6" height="1" fill="#000"/>
<rect x="352" y="354" width="1" height="7" fill="#000"/>
<rect x="352" y="358" width="3" height="1" fill="#000"/>
<rect x="354" y="358" width="1" height="10" fill="#000"/>
<rect x="345" y="367" width="10" height="1" fill="#000"/>
<rect x="345" y="359" width="1" height="9" fill="#000"/>
<rect x="552" y="360" width="7" height="1" fill="#000"/>
<rect x="552" y="367" width="7" height="1" fill="#000"/>
<rect x="548" y="353" width="4" height="17" fill="#000"/>
<rect x="538" y="358" width="1" height="10" fill="#000"/>
<rect x="538" y="367" width="10" height="1" fill="#000"/>
<rect x="538" y="358" width="4" height="1" fill="#000"/>
<rect x="541" y="354" width="1" height="7" fill="#000"/>
<rect x="541" y="360" width="5" height="1" fill="#000"/>
<rect x="545" y="358" width="1" height="3" fill="#000"/>
<rect x="545" y="358" width="3" height="1" fill="#000"/>
<rect x="359" y="355" width="175" height="14" fill="#000"/>
<rect x="361" y="368" width="1" height="1" fill="#fff"/>
<rect x="364" y="368" width="1" height="1" fill="#fff"/>
<rect x="367" y="368" width="1" height="1" fill="#fff"/>
<rect x="370" y="368" width="1" height="1" fill="#fff"/>
<rect x="373" y="368" width="1" height="1" fill="#fff"/>
<rect x="376" y="368" width="1" height="1" fill="#fff"/>
<rect x="379" y="368" width="1" height="1" fill="#fff"/>
<rect x="382" y="368" width="1" height="1" fill="#fff"/>
<rect x="385" y="368" width="1" height="1" fill="#fff"/>
<rect x="388" y="368" width="1" height="1" fill="#fff"/>
<rect x="391" y="368" width="1" height="1" fill="#fff"/>
<rect x="394" y="368" width="1" height="1" fill="#fff"/>
<rect x="397" y="368" width="1" height="1" fill="#fff"/>
<rect x="400" y="368" width="1" height="1" fill="#fff"/>
<rect x="403" y="368" width="1" height="1" fill="#fff"/>
<rect x="406" y="368" width="1" height="1" fill="#fff"/>
<rect x="409" y="368" width="1" height="1" fill="#fff"/>
<rect x="412" y="368" width="1" height="1" fill="#fff"/>
<rect x="415" y="368" width="1" height="1" fill="#fff"/>
<rect x="418" y="368" width="1" height="1" fill="#fff"/>
<rect x="421" y="368" width="1" height="1" fill="#fff"/>
<rect x="424" y="368" width="1" height="1" fill="#fff"/>
<rect x="427" y="368" width="1" height="1" fill="#fff"/>
<rect x="430" y="368" width="1" height="1" fill="#fff"/>
<rect x="433" y="368" width="1" height="1" fill="#fff"/>
<rect x="436" y="368" width="1" height="1" fill="#fff"/>
<rect x="439" y="368" width="1" height="1" fill="#fff"/>
<rect x="442" y="368" width="1" height="1" fill="#fff"/>
<rect x="445" y="368" width="1" height="1" fill="#fff"/>
<rect x="448" y="368" width="1" height="1" fill="#fff"/>
<rect x="451" y="368" width="1" height="1" fill="#fff"/>
<rect x="454" y="368" width="1" height="1" fill="#fff"/>
<rect x="457" y="368" width="1" height="1" fill="#fff"/>
<rect x="460" y="368" width="1" height="1" fill="#fff"/>
<rect x="463" y="368" width="1" height="1" fill="#fff"/>
<rect x="466" y="368" width="1" height="1" fill="#fff"/>
<rect x="469" y="368" width="1" height="1" fill="#fff"/>
<rect x="472" y="368" width="1" height="1" fill="#fff"/>
<rect x="475" y="368" width="1" height="1" fill="#fff"/>
<rect x="478" y="368" width="1" height="1" fill="#fff"/>
<rect x="481" y="368" width="1" height="1" fill="#fff"/>
<rect x="484" y="368" width="1" height="1" fill="#fff"/>
<rect x="487" y="368" width="1" height="1" fill="#fff"/>
<rect x="490" y="368" width="1" height="1" fill="#fff"/>
<rect x="493" y="368" width="1" height="1" fill="#fff"/>
<rect x="496" y="368" width="1" height="1" fill="#fff"/>
<rect x="499" y="368" width="1" height="1" fill="#fff"/>
<rect x="502" y="368" width="1" height="1" fill="#fff"/>
<rect x="505" y="368" width="1" height="1" fill="#fff"/>
<rect x="508" y="368" width="1" height="1" fill="#fff"/>
<rect x="511" y="368" width="1" height="1" fill="#fff"/>
<rect x="514" y="368" width="1" height="1" fill="#fff"/>
<rect x="517" y="368" width="1" height="1" fill="#fff"/>
<rect x="520" y="368" width="1" height="1" fill="#fff"/>
<rect x="523" y="368" width="1" height="1" fill="#fff"/>
<rect x="526" y="368" width="1" height="1" fill="#fff"/>
<rect x="529" y="368" width="1" height="1" fill="#fff"/>
<rect x="532" y="368" width="1" height="1" fill="#fff"/>
<rect x="362" y="362" width="4" height="5" fill="#fff"/>
<rect x="363" y="356" width="2" height="4" fill="#fff"/>
<rect x="368" y="362" width="4" height="5" fill="#fff"/>
<rect x="369" y="356" width="2" height="4" fill="#fff"/>
<rect x="374" y="362" width="4" height="5" fill="#fff"/>
<rect x="375" y="356" width="1" height="4" fill="#fff"/>
<rect x="380" y="362" width="4" height="5" fill="#fff"/>
<rect x="381" y="356" width="1" height="4" fill="#fff"/>
<rect x="386" y="362" width="4" height="5" fill="#fff"/>
<rect x="387" y="356" width="1" height="4" fill="#fff"/>
<rect x="392" y="362" width="4" height="5" fill="#fff"/>
<rect x="393" y="356" width="2" height="4" fill="#fff"/>
<rect x="393" y="356" width="1" height="7" fill="#fff"/>
<rect x="398" y="362" width="4" height="5" fill="#fff"/>
<rect x="399" y="356" width="2" height="4" fill="#fff"/>
<rect x="404" y="362" width="4" height="5" fill="#fff"/>
<rect x="405" y="356" width="1" height="4" fill="#fff"/>
<rect x="409" y="362" width="4" height="5" fill="#fff"/>
<rect x="410" y="356" width="1" height="4" fill="#fff"/>
<rect x="415" y="362" width="4" height="5" fill="#fff"/>
<rect x="416" y="356" width="1" height="4" fill="#fff"/>
<rect x="421" y="362" width="4" height="5" fill="#fff"/>
<rect x="422" y="356" width="2" height="4" fill="#fff"/>
<rect x="422" y="356" width="1" height="7" fill="#fff"/>
<rect x="427" y="362" width="4" height="5" fill="#fff"/>
<rect x="428" y="356" width="2" height="4" fill="#fff"/>
<rect x="433" y="362" width="4" height="5" fill="#fff"/>
<rect x="434" y="356" width="1" height="4" fill="#fff"/>
<rect x="439" y="362" width="4" height="5" fill="#fff"/>
<rect x="440" y="356" width="1" height="4" fill="#fff"/>
<rect x="445" y="362" width="4" height="5" fill="#fff"/>
<rect x="446" y="356" width="1" height="4" fill="#fff"/>
<rect x="451" y="362" width="4" height="5" fill="#fff"/>
<rect x="452" y="356" width="2" height="4" fill="#fff"/>
<rect x="452" y="356" width="1" height="7" fill="#fff"/>
<rect x="457" y="362" width="4" height="5" fill="#fff"/>
<rect x="458" y="356" width="2" height="4" fill="#fff"/>
<rect x="463" y="362" width="4" height="5" fill="#fff"/>
<rect x="464" y="356" width="1" height="4" fill="#fff"/>
<rect x="469" y="362" width="4" height="5" fill="#fff"/>
<rect x="470" y="356" width="1" height="4" fill="#fff"/>
<rect x="475" y="362" width="4" height="5" fill="#fff"/>
<rect x="476" y="356" width="1" height="4" fill="#fff"/>
<rect x="481" y="362" width="4" height="5" fill="#fff"/>
<rect x="482" y="356" width="2" height="4" fill="#fff"/>
<rect x="482" y="356" width="1" height="7" fill="#fff"/>
<rect x="487" y="362" width="4" height="5" fill="#fff"/>
<rect x="488" y="356" width="2" height="4" fill="#fff"/>
<rect x="492" y="362" width="4" height="5" fill="#fff"/>
<rect x="493" y="356" width="1" height="4" fill="#fff"/>
<rect x="498" y="362" width="4" height="5" fill="#fff"/>
<rect x="499" y="356" width="1" height="4" fill="#fff"/>
<rect x="504" y="362" width="4" height="5" fill="#fff"/>
<rect x="505" y="356" width="1" height="4" fill="#fff"/>
<rect x="510" y="362" width="4" height="5" fill="#fff"/>
<rect x="511" y="356" width="2" height="4" fill="#fff"/>
<rect x="511" y="356" width="1" height="7" fill="#fff"/>
<rect x="516" y="362" width="4" height="5" fill="#fff"/>
<rect x="517" y="356" width="2" height="4" fill="#fff"/>
<rect x="522" y="362" width="4" height="5" fill="#fff"/>
<rect x="523" y="356" width="1" height="4" fill="#fff"/>
<rect x="528" y="362" width="4" height="5" fill="#fff"/>
<rect x="529" y="356" width="1" height="4" fill="#fff"/>
<rect x="334" y="373" width="226" height="19" fill="#000"/>
<rect x="335" y="374" width="224" height="17" fill="#fff"/>
<rect x="335" y="379" width="6" height="1" fill="#000"/>
<rect x="335" y="386" width="6" height="1" fill="#000"/>
<rect x="341" y="373" width="4" height="16" fill="#000"/>
<rect x="341" y="389" width="2" height="1" fill="#000"/>
<rect x="345" y="377" width="3" height="1" fill="#000"/>
<rect x="347" y="377" width="1" height="4" fill="#000"/>
<rect x="347" y="380" width="6" height="1" fill="#000"/>
<rect x="352" y="374" width="1" height="7" fill="#000"/>
<rect x="352" y="378" width="3" height="1" fill="#000"/>
<rect x="354" y="378" width="1" height="10" fill="#000"/>
<rect x="345" y="387" width="10" height="1" fill="#000"/>
<rect x="345" y="379" width="1" height="9" fill="#000"/>
<rect x="552" y="380" width="7" height="1" fill="#000"/>
<rect x="552" y="387" width="7" height="1" fill="#000"/>
<rect x="548" y="373" width="4" height="17" fill="#000"/>
<rect x="538" y="378" width="1" height="10" fill="#000"/>
<rect x="538" y="387" width="10" height="1" fill="#000"/>
<rect x="538" y="378" width="4" height="1" fill="#000"/>
<rect x="541" y="374" width="1" height="7" fill="#000"/>
<rect x="541" y="380" width="5" height="1" fill="#000"/>
<rect x="545" y="378" width="1" height="3" fill="#000"/>
<rect x="545" y="378" width="3" height="1" fill="#000"/>
<rect x="359" y="375" width="175" height="14" fill="#000"/>
<rect x="362" y="382" width="4" height="6" fill="#fff"/>
<rect x="363" y="376" width="2" height="4" fill="#fff"/>
<rect x="368" y="382" width="4" height="6" fill="#fff"/>
<rect x="369" y="376" width="2" height="4" fill="#fff"/>
<rect x="374" y="382" width="4" height="6" fill="#fff"/>
<rect x="375" y="376" width="1" height="4" fill="#fff"/>
<rect x="380" y="382" width="4" height="6" fill="#fff"/>
<rect x="381" y="376" width="1" height="4" fill="#fff"/>
<rect x="386" y="382" width="4" height="6" fill="#fff"/>
<rect x="387" y="376" width="1" height="4" fill="#fff"/>
<rect x="392" y="382" width="4" height="6" fill="#fff"/>
<rect x="393" y="376" width="2" height="4" fill="#fff"/>
<rect x="393" y="376" width="1" height="7" fill="#fff"/>
<rect x="398" y="382" width="4" height="6" fill="#fff"/>
<rect x="399" y="376" width="2" height="4" fill="#fff"/>
<rect x="404" y="382" width="4" height="6" fill="#fff"/>
<rect x="405" y="376" width="1" height="4" fill="#fff"/>
<rect x="409" y="382" width="4" height="6" fill="#fff"/>
<rect x="410" y="376" width="1" height="4" fill="#fff"/>
<rect x="415" y="382" width="4" height="6" fill="#fff"/>
<rect x="416" y="376" width="1" height="4" fill="#fff"/>
<rect x="421" y="382" width="4" height="6" fill="#fff"/>
<rect x="422" y="376" width="2" height="4" fill="#fff"/>
<rect x="422" y="376" width="1" height="7" fill="#fff"/>
<rect x="427" y="382" width="4" height="6" fill="#fff"/>
<rect x="428" y="376" width="2" height="4" fill="#fff"/>
<rect x="433" y="382" width="4" height="6" fill="#fff"/>
<rect x="434" y="376" width="1" height="4" fill="#fff"/>
<rect x="439" y="382" width="4" height="6" fill="#fff"/>
<rect x="440" y="376" width="1" height="4" fill="#fff"/>
<rect x="445" y="382" width="4" height="6" fill="#fff"/>
<rect x="446" y="376" width="1" height="4" fill="#fff"/>
<rect x="451" y="382" width="4" height="6" fill="#fff"/>
<rect x="452" y="376" width="2" height="4" fill="#fff"/>
<rect x="452" y="376" width="1" height="7" fill="#fff"/>
<rect x="457" y="382" width="4" height="6" fill="#fff"/>
<rect x="458" y="376" width="2" height="4" fill="#fff"/>
<rect x="463" y="382" width="4" height="6" fill="#fff"/>
<rect x="464" y="376" width="1" height="4" fill="#fff"/>
<rect x="469" y="382" width="4" height="6" fill="#fff"/>
<rect x="470" y="376" width="1" height="4" fill="#fff"/>
<rect x="475" y="382" width="4" height="6" fill="#fff"/>
<rect x="476" y="376" width="1" height="4" fill="#fff"/>
<rect x="481" y="382" width="4" height="6" fill="#fff"/>
<rect x="482" y="376" width="2" height="4" fill="#fff"/>
<rect x="482" y="376" width="1" height="7" fill="#fff"/>
<rect x="487" y="382" width="4" height="6" fill="#fff"/>
<rect x="488" y="376" width="2" height="4" fill="#fff"/>
<rect x="492" y="382" width="4" height="6" fill="#fff"/>
<rect x="493" y="376" width="1" height="4" fill="#fff"/>
<rect x="498" y="382" width="4" height="6" fill="#fff"/>
<rect x="499" y="376" width="1" height="4" fill="#fff"/>
<rect x="504" y="382" width="4" height="6" fill="#fff"/>
<rect x="505" y="376" width="1" height="4" fill="#fff"/>
<rect x="510" y="382" width="4" height="6" fill="#fff"/>
<rect x="511" y="376" width="2" height="4" fill="#fff"/>
<rect x="511" y="376" width="1" height="7" fill="#fff"/>
<rect x="516" y="382" width="4" height="6" fill="#fff"/>
<rect x="517" y="376" width="2" height="4" fill="#fff"/>
<rect x="522" y="382" width="4" height="6" fill="#fff"/>
<rect x="523" y="376" width="1" height="4" fill="#fff"/>
<rect x="528" y="382" width="4" height="6" fill="#fff"/>
<rect x="529" y="376" width="1" height="4" fill="#fff"/>
<rect x="334" y="393" width="226" height="19" fill="#000"/>
<rect x="335" y="394" width="224" height="17" fill="#fff"/>
<rect x="335" y="399" width="6" height="1" fill="#000"/>
<rect x="335" y="406" width="6" height="1" fill="#000"/>
<rect x="341" y="393" width="4" height="16" fill="#000"/>
<rect x="341" y="409" width="2" height="1" fill="#000"/>
<rect x="345" y="397" width="3" height="1" fill="#000"/>
<rect x="347" y="397" width="1" height="4" fill="#000"/>
<rect x="347" y="400" width="6" height="1" fill="#000"/>
<rect x="352" y="394" width="1" height="7" fill="#000"/>
<rect x="352" y="398" width="3" height="1" fill="#000"/>
<rect x="354" y="398" width="1" height="10" fill="#000"/>
<rect x="345" y="407" width="10" height="1" fill="#000"/>
<rect x="345" y="399" width="1" height="9" fill="#000"/>
<rect x="552" y="400" width="7" height="1" fill="#000"/>
<rect x="552" y="407" width="7" height="1" fill="#000"/>
<rect x="548" y="393" width="4" height="17" fill="#000"/>
<rect x="538" y="398" width="1" height="10" fill="#000"/>
<rect x="538" y="407" width="10" height="1" fill="#000"/>
<rect x="538" y="398" width="4" height="1" fill="#000"/>
<rect x="541" y="394" width="1" height="7" fill="#000"/>
<rect x="541" y="400" width="5" height="1" fill="#000"/>
<rect x="545" y="398" width="1" height="3" fill="#000"/>
<rect x="545" y="398" width="3" height="1" fill="#000"/>
<rect x="359" y="395" width="175" height="14" fill="#000"/>
<rect x="361" y="408" width="1" height="1" fill="#fff"/>
<rect x="364" y="408" width="1" height="1" fill="#fff"/>
<rect x="367" y="408" width="1" height="1" fill="#fff"/>
<rect x="370" y="408" width="1" height="1" fill="#fff"/>
<rect x="373" y="408" width="1" height="1" fill="#fff"/>
<rect x="376" y="408" width="1" height="1" fill="#fff"/>
<rect x="379" y="408" width="1" height="1" fill="#fff"/>
<rect x="382" y="408" width="1" height="1" fill="#fff"/>
<rect x="385" y="408" width="1" height="1" fill="#fff"/>
<rect x="388" y="408" width="1" height="1" fill="#fff"/>
<rect x="391" y="408" width="1" height="1" fill="#fff"/>
<rect x="394" y="408" width="1" height="1" fill="#fff"/>
<rect x="397" y="408" width="1" height="1" fill="#fff"/>
<rect x="400" y="408" width="1" height="1" fill="#fff"/>
<rect x="403" y="408" width="1" height="1" fill="#fff"/>
<rect x="406" y="408" width="1" height="1" fill="#fff"/>
<rect x="409" y="408" width="1" height="1" fill="#fff"/>
<rect x="412" y="408" width="1" height="1" fill="#fff"/>
<rect x="415" y="408" width="1" height="1" fill="#fff"/>
<rect x="418" y="408" width="1" height="1" fill="#fff"/>
<rect x="421" y="408" width="1" height="1" fill="#fff"/>
<rect x="424" y="408" width="1" height="1" fill="#fff"/>
<rect x="427" y="408" width="1" height="1" fill="#fff"/>
<rect x="430" y="408" width="1" height="1" fill="#fff"/>
<rect x="433" y="408" width="1" height="1" fill="#fff"/>
<rect x="436" y="408" width="1" height="1" fill="#fff"/>
<rect x="439" y="408" width="1" height="1" fill="#fff"/>
<rect x="442" y="408" width="1" height="1" fill="#fff"/>
<rect x="445" y="408" width="1" height="1" fill="#fff"/>
<rect x="448" y="408" width="1" height="1" fill="#fff"/>
<rect x="451" y="408" width="1" height="1" fill="#fff"/>
<rect x="454" y="408" width="1" height="1" fill="#fff"/>
<rect x="457" y="408" width="1" height="1" fill="#fff"/>
<rect x="460" y="408" width="1" height="1" fill="#fff"/>
<rect x="463" y="408" width="1" height="1" fill="#fff"/>
<rect x="466" y="408" width="1" height="1" fill="#fff"/>
<rect x="469" y="408" width="1" height="1" fill="#fff"/>
<rect x="472" y="408" width="1" height="1" fill="#fff"/>
<rect x="475" y="408" width="1" height="1" fill="#fff"/>
<rect x="478" y="408" width="1" height="1" fill="#fff"/>
<rect x="481" y="408" width="1" height="1" fill="#fff"/>
<rect x="484" y="408" width="1" height="1" fill="#fff"/>
<rect x="487" y="408" width="1" height="1" fill="#fff"/>
<rect x="490" y="408" width="1" height="1" fill="#fff"/>
<rect x="493" y="408" width="1" height="1" fill="#fff"/>
<rect x="496" y="408" width="1" height="1" fill="#fff"/>
<rect x="499" y="408" width="1" height="1" fill="#fff"/>
<rect x="502" y="408" width="1" height="1" fill="#fff"/>
<rect x="505" y="408" width="1" height="1" fill="#fff"/>
<rect x="508" y="408" width="1" height="1" fill="#fff"/>
<rect x="511" y="408" width="1" height="1" fill="#fff"/>
<rect x="514" y="408" width="1" height="1" fill="#fff"/>
<rect x="517" y="408" width="1" height="1" fill="#fff"/>
<rect x="520" y="408" width="1" height="1" fill="#fff"/>
<rect x="523" y="408" width="1" height="1" fill="#fff"/>
<rect x="526" y="408" width="1" height="1" fill="#fff"/>
<rect x="529" y="408" width="1" height="1" fill="#fff"/>
<rect x="532" y="408" width="1" height="1" fill="#fff"/>
<rect x="362" y="402" width="4" height="5" fill="#fff"/>
<rect x="363" y="396" width="2" height="4" fill="#fff"/>
<rect x="368" y="402" width="4" height="5" fill="#fff"/>
<rect x="369" y="396" width="2" height="4" fill="#fff"/>
<rect x="374" y="402" width="4" height="5" fill="#fff"/>
<rect x="375" y="396" width="1" height="4" fill="#fff"/>
<rect x="380" y="402" width="4" height="5" fill="#fff"/>
<rect x="381" y="396" width="1" height="4" fill="#fff"/>
<rect x="386" y="402" width="4" height="5" fill="#fff"/>
<rect x="387" y="396" width="1" height="4" fill="#fff"/>
<rect x="392" y="402" width="4" height="5" fill="#fff"/>
<rect x="393" y="396" width="2" height="4" fill="#fff"/>
<rect x="393" y="396" width="1" height="7" fill="#fff"/>
<rect x="398" y="402" width="4" height="5" fill="#fff"/>
<rect x="399" y="396" width="2" height="4" fill="#fff"/>
<rect x="404" y="402" width="4" height="5" fill="#fff"/>
<rect x="405" y="396" width="1" height="4" fill="#fff"/>
<rect x="409" y="402" width="4" height="5" fill="#fff"/>
<rect x="410" y="396" width="1" height="4" fill="#fff"/>
<rect x="415" y="402" width="4" height="5" fill="#fff"/>
<rect x="416" y="396" width="1" height="4" fill="#fff"/>
<rect x="421" y="402" width="4" height="5" fill="#fff"/>
<rect x="422" y="396" width="2" height="4" fill="#fff"/>
<rect x="422" y="396" width="1" height="7" fill="#fff"/>
<rect x="427" y="402" width="4" height="5" fill="#fff"/>
<rect x="428" y="396" width="2" height="4" fill="#fff"/>
<rect x="433" y="402" width="4" height="5" fill="#fff"/>
<rect x="434" y="396" width="1" height="4" fill="#fff"/>
<rect x="439" y="402" width="4" height="5" fill="#fff"/>
<rect x="440" y="396" width="1" height="4" fill="#fff"/>
<rect x="445" y="402" width="4" height="5" fill="#fff"/>
<rect x="446" y="396" width="1" height="4" fill="#fff"/>
<rect x="451" y="402" width="4" height="5" fill="#fff"/>
<rect x="452" y="396" width="2" height="4" fill="#fff"/>
<rect x="452" y="396" width="1" height="7" fill="#fff"/>
<rect x="457" y="402" width="4" height="5" fill="#fff"/>
<rect x="458" y="396" width="2" height="4" fill="#fff"/>
<rect x="463" y="402" width="4" height="5" fill="#fff"/>
<rect x="464" y="396" width="1" height="4" fill="#fff"/>
<rect x="469" y="402" width="4" height="5" fill="#fff"/>
<rect x="470" y="396" width="1" height="4" fill="#fff"/>
<rect x="475" y="402" width="4" height="5" fill="#fff"/>
<rect x="476" y="396" width="1" height="4" fill="#fff"/>
<rect x="481" y="402" width="4" height="5" fill="#fff"/>
<rect x="482" y="396" width="2" height="4" fill="#fff"/>
<rect x="482" y="396" width="1" height="7" fill="#fff"/>
<rect x="487" y="402" width="4" height="5" fill="#fff"/>
<rect x="488" y="396" width="2" height="4" fill="#fff"/>
<rect x="492" y="402" width="4" height="5" fill="#fff"/>
<rect x="493" y="396" width="1" height="4" fill="#fff"/>
<rect x="498" y="402" width="4" height="5" fill="#fff"/>
<rect x="499" y="396" width="1" height="4" fill="#fff"/>
<rect x="504" y="402" width="4" height="5" fill="#fff"/>
<rect x="505" y="396" width="1" height="4" fill="#fff"/>
<rect x="510" y="402" width="4" height="5" fill="#fff"/>
<rect x="511" y="396" width="2" height="4" fill="#fff"/>
<rect x="511" y="396" width="1" height="7" fill="#fff"/>
<rect x="516" y="402" width="4" height="5" fill="#fff"/>
<rect x="517" y="396" width="2" height="4" fill="#fff"/>
<rect x="522" y="402" width="4" height="5" fill="#fff"/>
<rect x="523" y="396" width="1" height="4" fill="#fff"/>
<rect x="528" y="402" width="4" height="5" fill="#fff"/>
<rect x="529" y="396" width="1" height="4" fill="#fff"/>
<rect x="334" y="413" width="226" height="19" fill="#000"/>
<rect x="335" y="414" width="224" height="17" fill="#fff"/>
<rect x="335" y="419" width="6" height="1" fill="#000"/>
<rect x="335" y="426" width="6" height="1" fill="#000"/>
<rect x="341" y="413" width="4" height="16" fill="#000"/>
<rect x="341" y="429" width="2" height="1" fill="#000"/>
<rect x="345" y="417" width="3" height="1" fill="#000"/>
<rect x="347" y="417" width="1" height="4" fill="#000"/>
<rect x="347" y="420" width="6" height="1" fill="#000"/>
<rect x="352" y="414" width="1" height="7" fill="#000"/>
<rect x="352" y="418" width="3" height="1" fill="#000"/>
<rect x="354" y="418" width="1" height="10" fill="#000"/>
<rect x="345" y="427" width="10" height="1" fill="#000"/>
<rect x="345" y="419" width="1" height="9" fill="#000"/>
<rect x="552" y="420" width="7" height="1" fill="#000"/>
<rect x="552" y="427" width="7" height="1" fill="#000"/>
<rect x="548" y="413" width="4" height="17" fill="#000"/>
<rect x="538" y="418" width="1" height="10" fill="#000"/>
<rect x="538" y="427" width="10" height="1" fill="#000"/>
<rect x="538" y="418" width="4" height="1" fill="#000"/>
<rect x="541" y="414" width="1" height="7" fill="#000"/>
<rect x="541" y="420" width="5" height="1" fill="#000"/>
<rect x="545" y="418" width="1" height="3" fill="#000"/>
<rect x="545" y="418" width="3" height="1" fill="#000"/>
<rect x="359" y="415" width="175" height="14" fill="#000"/>
<rect x="362" y="422" width="4" height="6" fill="#fff"/>
<rect x="363" y="416" width="2" height="4" fill="#fff"/>
<rect x="368" y="422" width="4" height="6" fill="#fff"/>
<rect x="369" y="416" width="2" height="4" fill="#fff"/>
<rect x="374" y="422" width="4" height="6" fill="#fff"/>
<rect x="375" y="416" width="1" height="4" fill="#fff"/>
<rect x="380" y="422" width="4" height="6" fill="#fff"/>
<rect x="381" y="416" width="1" height="4" fill="#fff"/>
<rect x="386" y="422" width="4" height="6" fill="#fff"/>
<rect x="387" y="416" width="1" height="4" fill="#fff"/>
<rect x="392" y="422" width="4" height="6" fill="#fff"/>
<rect x="393" y="416" width="2" height="4" fill="#fff"/>
<rect x="393" y="416" width="1" height="7" fill="#fff"/>
<rect x="398" y="422" width="4" height="6" fill="#fff"/>
<rect x="399" y="416" width="2" height="4" fill="#fff"/>
<rect x="404" y="422" width="4" height="6" fill="#fff"/>
<rect x="405" y="416" width="1" height="4" fill="#fff"/>
<rect x="409" y="422" width="4" height="6" fill="#fff"/>
<rect x="410" y="416" width="1" height="4" fill="#fff"/>
<rect x="415" y="422" width="4" height="6" fill="#fff"/>
<rect x="416" y="416" width="1" height="4" fill="#fff"/>
<rect x="421" y="422" width="4" height="6" fill="#fff"/>
<rect x="422" y="416" width="2" height="4" fill="#fff"/>
<rect x="422" y="416" width="1" height="7" fill="#fff"/>
<rect x="427" y="422" width="4" height="6" fill="#fff"/>
<rect x="428" y="416" width="2" height="4" fill="#fff"/>
<rect x="433" y="422" width="4" height="6" fill="#fff"/>
<rect x="434" y="416" width="1" height="4" fill="#fff"/>
<rect x="439" y="422" width="4" height="6" fill="#fff"/>
<rect x="440" y="416" width="1" height="4" fill="#fff"/>
<rect x="445" y="422" width="4" height="6" fill="#fff"/>
<rect x="446" y="416" width="1" height="4" fill="#fff"/>
<rect x="451" y="422" width="4" height="6" fill="#fff"/>
<rect x="452" y="416" width="2" height="4" fill="#fff"/>
<rect x="452" y="416" width="1" height="7" fill="#fff"/>
<rect x="457" y="422" width="4" height="6" fill="#fff"/>
<rect x="458" y="416" width="2" height="4" fill="#fff"/>
<rect x="463" y="422" width="4" height="6" fill="#fff"/>
<rect x="464" y="416" width="1" height="4" fill="#fff"/>
<rect x="469" y="422" width="4" height="6" fill="#fff"/>
<rect x="470" y="416" width="1" height="4" fill="#fff"/>
<rect x="475" y="422" width="4" height="6" fill="#fff"/>
<rect x="476" y="416" width="1" height="4" fill="#fff"/>
<rect x="481" y="422" width="4" height="6" fill="#fff"/>
<rect x="482" y="416" width="2" height="4" fill="#fff"/>
<rect x="482" y="416" width="1" height="7" fill="#fff"/>
<rect x="487" y="422" width="4" height="6" fill="#fff"/>
<rect x="488" y="416" width="2" height="4" fill="#fff"/>
<rect x="492" y="422" width="4" height="6" fill="#fff"/>
<rect x="493" y="416" width="1" height="4" fill="#fff"/>
<rect x="498" y="422" width="4" height="6" fill="#fff"/>
<rect x="499" y="416" width="1" height="4" fill="#fff"/>
<rect x="504" y="422" width="4" height="6" fill="#fff"/>
<rect x="505" y="416" width="1" height="4" fill="#fff"/>
<rect x="510" y="422" width="4" height="6" fill="#fff"/>
<rect x="511" y="416" width="2" height="4" fill="#fff"/>
<rect x="511" y="416" width="1" height="7" fill="#fff"/>
<rect x="516" y="422" width="4" height="6" fill="#fff"/>
<rect x="517" y="416" width="2" height="4" fill="#fff"/>
<rect x="522" y="422" width="4" height="6" fill="#fff"/>
<rect x="523" y="416" width="1" height="4" fill="#fff"/>
<rect x="528" y="422" width="4" height="6" fill="#fff"/>
<rect x="529" y="416" width="1" height="4" fill="#fff"/>
<rect x="334" y="433" width="226" height="19" fill="#000"/>
<rect x="335" y="434" width="224" height="17" fill="#fff"/>
<rect x="335" y="439" width="6" height="1" fill="#000"/>
<rect x="335" y="446" width="6" height="1" fill="#000"/>
<rect x="341" y="433" width="4" height="16" fill="#000"/>
<rect x="341" y="449" width="2" height="1" fill="#000"/>
<rect x="345" y="437" width="3" height="1" fill="#000"/>
<rect x="347" y="437" width="1" height="4" fill="#000"/>
<rect x="347" y="440" width="6" height="1" fill="#000"/>
<rect x="352" y="434" width="1" height="7" fill="#000"/>
<rect x="352" y="438" width="3" height="1" fill="#000"/>
<rect x="354" y="438" width="1" height="10" fill="#000"/>
<rect x="345" y="447" width="10" height="1" fill="#000"/>
<rect x="345" y="439" width="1" height="9" fill="#000"/>
<rect x="552" y="440" width="7" height="1" fill="#000"/>
<rect x="552" y="447" width="7" height="1" fill="#000"/>
<rect x="548" y="433" width="4" height="17" fill="#000"/>
<rect x="538" y="438" width="1" height="10" fill="#000"/>
<rect x="538" y="447" width="10" height="1" fill="#000"/>
<rect x="538" y="438" width="4" height="1" fill="#000"/>
<rect x="541" y="434" width="1" height="7" fill="#000"/>
<rect x="541" y="440" width="5" height="1" fill="#000"/>
<rect x="545" y="438" width="1" height="3" fill="#000"/>
<rect x="545" y="438" width="3" height="1" fill="#000"/>
<rect x="359" y="435" width="175" height="14" fill="#000"/>
<rect x="361" y="448" width="1" height="1" fill="#fff"/>
<rect x="364" y="448" width="1" height="1" fill="#fff"/>
<rect x="367" y="448" width="1" height="1" fill="#fff"/>
<rect x="370" y="448" width="1" height="1" fill="#fff"/>
<rect x="373" y="448" width="1" height="1" fill="#fff"/>
<rect x="376" y="448" width="1" height="1" fill="#fff"/>
<rect x="379" y="448" width="1" height="1" fill="#fff"/>
<rect x="382" y="448" width="1" height="1" fill="#fff"/>
<rect x="385" y="448" width="1" height="1" fill="#fff"/>
<rect x="388" y="448" width="1" height="1" fill="#fff"/>
<rect x="391" y="448" width="1" height="1" fill="#fff"/>
<rect x="394" y="448" width="1" height="1" fill="#fff"/>
<rect x="397" y="448" width="1" height="1" fill="#fff"/>
<rect x="400" y="448" width="1" height="1" fill="#fff"/>
<rect x="403" y="448" width="1" height="1" fill="#fff"/>
<rect x="406" y="448" width="1" height="1" fill="#fff"/>
<rect x="409" y="448" width="1" height="1" fill="#fff"/>
<rect x="412" y="448" width="1" height="1" fill="#fff"/>
<rect x="415" y="448" width="1" height="1" fill="#fff"/>
<rect x="418" y="448" width="1" height="1" fill="#fff"/>
<rect x="421" y="448" width="1" height="1" fill="#fff"/>
<rect x="424" y="448" width="1" height="1" fill="#fff"/>
<rect x="427" y="448" width="1" height="1" fill="#fff"/>
<rect x="430" y="448" width="1" height="1" fill="#fff"/>
<rect x="433" y="448" width="1" height="1" fill="#fff"/>
<rect x="436" y="448" width="1" height="1" fill="#fff"/>
<rect x="439" y="448" width="1" height="1" fill="#fff"/>
<rect x="442" y="448" width="1" height="1" fill="#fff"/>
<rect x="445" y="448" width="1" height="1" fill="#fff"/>
<rect x="448" y="448" width="1" height="1" fill="#fff"/>
<rect x="451" y="448" width="1" height="1" fill="#fff"/>
<rect x="454" y="448" width="1" height="1" fill="#fff"/>
<rect x="457" y="448" width="1" height="1" fill="#fff"/>
<rect x="460" y="448" width="1" height="1" fill="#fff"/>
<rect x="463" y="448" width="1" height="1" fill="#fff"/>
<rect x="466" y="448" width="1" height="1" fill="#fff"/>
<rect x="469" y="448" width="1" height="1" fill="#fff"/>
<rect x="472" y="448" width="1" height="1" fill="#fff"/>
<rect x="475" y="448" width="1" height="1" fill="#fff"/>
<rect x="478" y="448" width="1" height="1" fill="#fff"/>
<rect x="481" y="448" width="1" height="1" fill="#fff"/>
<rect x="484" y="448" width="1" height="1" fill="#fff"/>
<rect x="487" y="448" width="1" height="1" fill="#fff"/>
<rect x="490" y="448" width="1" height="1" fill="#fff"/>
<rect x="493" y="448" width="1" height="1" fill="#fff"/>
<rect x="496" y="448" width="1" height="1" fill="#fff"/>
<rect x="499" y="448" width="1" height="1" fill="#fff"/>
<rect x="502" y="448" width="1" height="1" fill="#fff"/>
<rect x="505" y="448" width="1" height="1" fill="#fff"/>
<rect x="508" y="448" width="1" height="1" fill="#fff"/>
<rect x="511" y="448" width="1" height="1" fill="#fff"/>
<rect x="514" y="448" width="1" height="1" fill="#fff"/>
<rect x="517" y="448" width="1" height="1" fill="#fff"/>
<rect x="520" y="448" width="1" height="1" fill="#fff"/>
<rect x="523" y="448" width="1" height="1" fill="#fff"/>
<rect x="526" y="448" width="1" height="1" fill="#fff"/>
<rect x="529" y="448" width="1" height="1" fill="#fff"/>
<rect x="532" y="448" width="1" height="1" fill="#fff"/>
<rect x="362" y="442" width="4" height="5" fill="#fff"/>
<rect x="363" y="436" width="2" height="4" fill="#fff"/>
<rect x="368" y="442" width="4" height="5" fill="#fff"/>
<rect x="369" y="436" width="2" height="4" fill="#fff"/>
<rect x="374" y="442" width="4" height="5" fill="#fff"/>
<rect x="375" y="436" width="1" height="4" fill="#fff"/>
<rect x="380" y="442" width="4" height="5" fill="#fff"/>
<rect x="381" y="436" width="1" height="4" fill="#fff"/>
<rect x="386" y="442" width="4" height="5" fill="#fff"/>
<rect x="387" y="436" width="1" height="4" fill="#fff"/>
<rect x="392" y="442" width="4" height="5" fill="#fff"/>
<rect x="393" y="436" width="2" height="4" fill="#fff"/>
<rect x="393" y="436" width="1" height="7" fill="#fff"/>
<rect x="398" y="442" width="4" height="5" fill="#fff"/>
<rect x="399" y="436" width="2" height="4" fill="#fff"/>
<rect x="404" y="442" width="4" height="5" fill="#fff"/>
<rect x="405" y="436" width="1" height="4" fill="#fff"/>
<rect x="409" y="442" width="4" height="5" fill="#fff"/>
<rect x="410" y="436" width="1" height="4" fill="#fff"/>
<rect x="415" y="442" width="4" height="5" fill="#fff"/>
<rect x="416" y="436" width="1" height="4" fill="#fff"/>
<rect x="421" y="442" width="4" height="5" fill="#fff"/>
<rect x="422" y="436" width="2" height="4" fill="#fff"/>
<rect x="422" y="436" width="1" height="7" fill="#fff"/>
<rect x="427" y="442" width="4" height="5" fill="#fff"/>
<rect x="428" y="436" width="2" height="4" fill="#fff"/>
<rect x="433" y="442" width="4" height="5" fill="#fff"/>
<rect x="434" y="436" width="1" height="4" fill="#fff"/>
<rect x="439" y="442" width="4" height="5" fill="#fff"/>
<rect x="440" y="436" width="1" height="4" fill="#fff"/>
<rect x="445" y="442" width="4" height="5" fill="#fff"/>
<rect x="446" y="436" width="1" height="4" fill="#fff"/>
<rect x="451" y="442" width="4" height="5" fill="#fff"/>
<rect x="452" y="436" width="2" height="4" fill="#fff"/>
<rect x="452" y="436" width="1" height="7" fill="#fff"/>
<rect x="457" y="442" width="4" height="5" fill="#fff"/>
<rect x="458" y="436" width="2" height="4" fill="#fff"/>
<rect x="463" y="442" width="4" height="5" fill="#fff"/>
<rect x="464" y="436" width="1" height="4" fill="#fff"/>
<rect x="469" y="442" width="4" height="5" fill="#fff"/>
<rect x="470" y="436" width="1" height="4" fill="#fff"/>
<rect x="475" y="442" width="4" height="5" fill="#fff"/>
<rect x="476" y="436" width="1" height="4" fill="#fff"/>
<rect x="481" y="442" width="4" height="5" fill="#fff"/>
<rect x="482" y="436" width="2" height="4" fill="#fff"/>
<rect x="482" y="436" width="1" height="7" fill="#fff"/>
<rect x="487" y="442" width="4" height="5" fill="#fff"/>
<rect x="488" y="436" width="2" height="4" fill="#fff"/>
<rect x="492" y="442" width="4" height="5" fill="#fff"/>
<rect x="493" y="436" width="1" height="4" fill="#fff"/>
<rect x="498" y="442" width="4" height="5" fill="#fff"/>
<rect x="499" y="436" width="1" height="4" fill="#fff"/>
<rect x="504" y="442" width="4" height="5" fill="#fff"/>
<rect x="505" y="436" width="1" height="4" fill="#fff"/>
<rect x="510" y="442" width="4" height="5" fill="#fff"/>
<rect x="511" y="436" width="2" height="4" fill="#fff"/>
<rect x="511" y="436" width="1" height="7" fill="#fff"/>
<rect x="516" y="442" width="4" height="5" fill="#fff"/>
<rect x="517" y="436" width="2" height="4" fill="#fff"/>
<rect x="522" y="442" width="4" height="5" fill="#fff"/>
<rect x="523" y="436" width="1" height="4" fill="#fff"/>
<rect x="528" y="442" width="4" height="5" fill="#fff"/>
<rect x="529" y="436" width="1" height="4" fill="#fff"/>
<rect x="334" y="453" width="226" height="19" fill="#000"/>
<rect x="335" y="454" width="224" height="17" fill="#fff"/>
<rect x="335" y="459" width="6" height="1" fill="#000"/>
<rect x="335" y="466" width="6" height="1" fill="#000"/>
<rect x="341" y="453" width="4" height="16" fill="#000"/>
<rect x="341" y="469" width="2" height="1" fill="#000"/>
<rect x="345" y="457" width="3" height="1" fill="#000"/>
<rect x="347" y="457" width="1" height="4" fill="#000"/>
<rect x="347" y="460" width="6" height="1" fill="#000"/>
<rect x="352" y="454" width="1" height="7" fill="#000"/>
<rect x="352" y="458" width="3" height="1" fill="#000"/>
<rect x="354" y="458" width="1" height="10" fill="#000"/>
<rect x="345" y="467" width="10" height="1" fill="#000"/>
<rect x="345" y="459" width="1" height="9" fill="#000"/>
<rect x="552" y="460" width="7" height="1" fill="#000"/>
<rect x="552" y="467" width="7" height="1" fill="#000"/>
<rect x="548" y="453" width="4" height="17" fill="#000"/>
<rect x="538" y="458" width="1" height="10" fill="#000"/>
<rect x="538" y="467" width="10" height="1" fill="#000"/>
<rect x="538" y="458" width="4" height="1" fill="#000"/>
<rect x="541" y="454" width="1" height="7" fill="#000"/>
<rect x="541" y="460" width="5" height="1" fill="#000"/>
<rect x="545" y="458" width="1" height="3" fill="#000"/>
<rect x="545" y="458" width="3" height="1" fill="#000"/>
<rect x="359" y="455" width="175" height="14" fill="#000"/>
<rect x="362" y="462" width="4" height="6" fill="#fff"/>
<rect x="363" y="456" width="2" height="4" fill="#fff"/>
<rect x="368" y="462" width="4" height="6" fill="#fff"/>
<rect x="369" y="456" width="2" height="4" fill="#fff"/>
<rect x="374" y="462" width="4" height="6" fill="#fff"/>
<rect x="375" y="456" width="1" height="4" fill="#fff"/>
<rect x="380" y="462" width="4" height="6" fill="#fff"/>
<rect x="381" y="456" width="1" height="4" fill="#fff"/>
<rect x="386" y="462" width="4" height="6" fill="#fff"/>
<rect x="387" y="456" width="1" height="4" fill="#fff"/>
<rect x="392" y="462" width="4" height="6" fill="#fff"/>
<rect x="393" y="456" width="2" height="4" fill="#fff"/>
<rect x="393" y="456" width="1" height="7" fill="#fff"/>
<rect x="398" y="462" width="4" height="6" fill="#fff"/>
<rect x="399" y="456" width="2" height="4" fill="#fff"/>
<rect x="404" y="462" width="4" height="6" fill="#fff"/>
<rect x="405" y="456" width="1" height="4" fill="#fff"/>
<rect x="409" y="462" width="4" height="6" fill="#fff"/>
<rect x="410" y="456" width="1" height="4" fill="#fff"/>
<rect x="415" y="462" width="4" height="6" fill="#fff"/>
<rect x="416" y="456" width="1" height="4" fill="#fff"/>
<rect x="421" y="462" width="4" height="6" fill="#fff"/>
<rect x="422" y="456" width="2" height="4" fill="#fff"/>
<rect x="422" y="456" width="1" height="7" fill="#fff"/>
<rect x="427" y="462" width="4" height="6" fill="#fff"/>
<rect x="428" y="456" width="2" height="4" fill="#fff"/>
<rect x="433" y="462" width="4" height="6" fill="#fff"/>
<rect x="434" y="456" width="1" height="4" fill="#fff"/>
<rect x="439" y="462" width="4" height="6" fill="#fff"/>
<rect x="440" y="456" width="1" height="4" fill="#fff"/>
<rect x="445" y="462" width="4" height="6" fill="#fff"/>
<rect x="446" y="456" width="1" height="4" fill="#fff"/>
<rect x="451" y="462" width="4" height="6" fill="#fff"/>
<rect x="452" y="456" width="2" height="4" fill="#fff"/>
<rect x="452" y="456" width="1" height="7" fill="#fff"/>
<rect x="457" y="462" width="4" height="6" fill="#fff"/>
<rect x="458" y="456" width="2" height="4" fill="#fff"/>
<rect x="463" y="462" width="4" height="6" fill="#fff"/>
<rect x="464" y="456" width="1" height="4" fill="#fff"/>
<rect x="469" y="462" width="4" height="6" fill="#fff"/>
<rect x="470" y="456" width="1" height="4" fill="#fff"/>
<rect x="475" y="462" width="4" height="6" fill="#fff"/>
<rect x="476" y="456" width="1" height="4" fill="#fff"/>
<rect x="481" y="462" width="4" height="6" fill="#fff"/>
<rect x="482" y="456" width="2" height="4" fill="#fff"/>
<rect x="482" y="456" width="1" height="7" fill="#fff"/>
<rect x="487" y="462" width="4" height="6" fill="#fff"/>
<rect x="488" y="456" width="2" height="4" fill="#fff"/>
<rect x="492" y="462" width="4" height="6" fill="#fff"/>
<rect x="493" y="456" width="1" height="4" fill="#fff"/>
<rect x="498" y="462" width="4" height="6" fill="#fff"/>
<rect x="499" y="456" width="1" height="4" fill="#fff"/>
<rect x="504" y="462" width="4" height="6" fill="#fff"/>
<rect x="505" y="456" width="1" height="4" fill="#fff"/>
<rect x="510" y="462" width="4" height="6" fill="#fff"/>
<rect x="511" y="456" width="2" height="4" fill="#fff"/>
<rect x="511" y="456" width="1" height="7" fill="#fff"/>
<rect x="516" y="462" width="4" height="6" fill="#fff"/>
<rect x="517" y="456" width="2" height="4" fill="#fff"/>
<rect x="522" y="462" width="4" height="6" fill="#fff"/>
<rect x="523" y="456" width="1" height="4" fill="#fff"/>
<rect x="528" y="462" width="4" height="6" fill="#fff"/>
<rect x="529" y="456" width="1" height="4" fill="#fff"/>
<rect x="334" y="473" width="226" height="19" fill="#000"/>
<rect x="335" y="474" width="224" height="17" fill="#fff"/>
<rect x="335" y="479" width="6" height="1" fill="#000"/>
<rect x="335" y="486" width="6" height="1" fill="#000"/>
<rect x="341" y="473" width="4" height="16" fill="#000"/>
<rect x="341" y="489" width="2" height="1" fill="#000"/>
<rect x="345" y="477" width="3" height="1" fill="#000"/>
<rect x="347" y="477" width="1" height="4" fill="#000"/>
<rect x="347" y="480" width="6" height="1" fill="#000"/>
<rect x="352" y="474" width="1" height="7" fill="#000"/>
<rect x="352" y="478" width="3" height="1" fill="#000"/>
<rect x="354" y="478" width="1" height="10" fill="#000"/>
<rect x="345" y="487" width="10" height="1" fill="#000"/>
<rect x="345" y="479" width="1" height="9" fill="#000"/>
<rect x="552" y="480" width="7" height="1" fill="#000"/>
<rect x="552" y="487" width="7" height="1" fill="#000"/>
<rect x="548" y="473" width="4" height="17" fill="#000"/>
<rect x="538" y="478" width="1" height="10" fill="#000"/>
<rect x="538" y="487" width="10" height="1" fill="#000"/>
<rect x="538" y="478" width="4" height="1" fill="#000"/>
<rect x="541" y="474" width="1" height="7" fill="#000"/>
<rect x="541" y="480" width="5" height="1" fill="#000"/>
<rect x="545" y="478" width="1" height="3" fill="#000"/>
<rect x="545" y="478" width="3" height="1" fill="#000"/>
<rect x="359" y="475" width="175" height="14" fill="#000"/>
<rect x="361" y="488" width="1" height="1" fill="#fff"/>
<rect x="364" y="488" width="1" height="1" fill="#fff"/>
<rect x="367" y="488" width="1" height="1" fill="#fff"/>
<rect x="370" y="488" width="1" height="1" fill="#fff"/>
<rect x="373" y="488" width="1" height="1" fill="#fff"/>
<rect x="376" y="488" width="1" height="1" fill="#fff"/>
<rect x="379" y="488" width="1" height="1" fill="#fff"/>
<rect x="382" y="488" width="1" height="1" fill="#fff"/>
<rect x="385" y="488" width="1" height="1" fill="#fff"/>
<rect x="388" y="488" width="1" height="1" fill="#fff"/>
<rect x="391" y="488" width="1" height="1" fill="#fff"/>
<rect x="394" y="488" width="1" height="1" fill="#fff"/>
<rect x="397" y="488" width="1" height="1" fill="#fff"/>
<rect x="400" y="488" width="1" height="1" fill="#fff"/>
<rect x="403" y="488" width="1" height="1" fill="#fff"/>
<rect x="406" y="488" width="1" height="1" fill="#fff"/>
<rect x="409" y="488" width="1" height="1" fill="#fff"/>
<rect x="412" y="488" width="1" height="1" fill="#fff"/>
<rect x="415" y="488" width="1" height="1" fill="#fff"/>
<rect x="418" y="488" width="1" height="1" fill="#fff"/>
<rect x="421" y="488" width="1" height="1" fill="#fff"/>
<rect x="424" y="488" width="1" height="1" fill="#fff"/>
<rect x="427" y="488" width="1" height="1" fill="#fff"/>
<rect x="430" y="488" width="1" height="1" fill="#fff"/>
<rect x="433" y="488" width="1" height="1" fill="#fff"/>
<rect x="436" y="488" width="1" height="1" fill="#fff"/>
<rect x="439" y="488" width="1" height="1" fill="#fff"/>
<rect x="442" y="488" width="1" height="1" fill="#fff"/>
<rect x="445" y="488" width="1" height="1" fill="#fff"/>
<rect x="448" y="488" width="1" height="1" fill="#fff"/>
<rect x="451" y="488" width="1" height="1" fill="#fff"/>
<rect x="454" y="488" width="1" height="1" fill="#fff"/>
<rect x="457" y="488" width="1" height="1" fill="#fff"/>
<rect x="460" y="488" width="1" height="1" fill="#fff"/>
<rect x="463" y="488" width="1" height="1" fill="#fff"/>
<rect x="466" y="488" width="1" height="1" fill="#fff"/>
<rect x="469" y="488" width="1" height="1" fill="#fff"/>
<rect x="472" y="488" width="1" height="1" fill="#fff"/>
<rect x="475" y="488" width="1" height="1" fill="#fff"/>
<rect x="478" y="488" width="1" height="1" fill="#fff"/>
<rect x="481" y="488" width="1" height="1" fill="#fff"/>
<rect x="484" y="488" width="1" height="1" fill="#fff"/>
<rect x="487" y="488" width="1" height="1" fill="#fff"/>
<rect x="490" y="488" width="1" height="1" fill="#fff"/>
<rect x="493" y="488" width="1" height="1" fill="#fff"/>
<rect x="496" y="488" width="1" height="1" fill="#fff"/>
<rect x="499" y="488" width="1" height="1" fill="#fff"/>
<rect x="502" y="488" width="1" height="1" fill="#fff"/>
<rect x="505" y="488" width="1" height="1" fill="#fff"/>
<rect x="508" y="488" width="1" height="1" fill="#fff"/>
<rect x="511" y="488" width="1" height="1" fill="#fff"/>
<rect x="514" y="488" width="1" height="1" fill="#fff"/>
<rect x="517" y="488" width="1" height="1" fill="#fff"/>
<rect x="520" y="488" width="1" height="1" fill="#fff"/>
<rect x="523" y="488" width="1" height="1" fill="#fff"/>
<rect x="526" y="488" width="1" height="1" fill="#fff"/>
<rect x="529" y="488" width="1" height="1" fill="#fff"/>
<rect x="532" y="488" width="1" height="1" fill="#fff"/>
<rect x="362" y="482" width="4" height="5" fill="#fff"/>
<rect x="363" y="476" width="2" height="4" fill="#fff"/>
<rect x="368" y="482" width="4" height="5" fill="#fff"/>
<rect x="369" y="476" width="2" height="4" fill="#fff"/>
<rect x="374" y="482" width="4" height="5" fill="#fff"/>
<rect x="375" y="476" width="1" height="4" fill="#fff"/>
<rect x="380" y="482" width="4" height="5" fill="#fff"/>
<rect x="381" y="476" width="1" height="4" fill="#fff"/>
<rect x="386" y="482" width="4" height="5" fill="#fff"/>
<rect x="387" y="476" width="1" height="4" fill="#fff"/>
<rect x="392" y="482" width="4" height="5" fill="#fff"/>
<rect x="393" y="476" width="2" height="4" fill="#fff"/>
<rect x="393" y="476" width="1" height="7" fill="#fff"/>
<rect x="398" y="482" width="4" height="5" fill="#fff"/>
<rect x="399" y="476" width="2" height="4" fill="#fff"/>
<rect x="404" y="482" width="4" height="5" fill="#fff"/>
<rect x="405" y="476" width="1" height="4" fill="#fff"/>
<rect x="409" y="482" width="4" height="5" fill="#fff"/>
<rect x="410" y="476" width="1" height="4" fill="#fff"/>
<rect x="415" y="482" width="4" height="5" fill="#fff"/>
<rect x="416" y="476" width="1" height="4" fill="#fff"/>
<rect x="421" y="482" width="4" height="5" fill="#fff"/>
<rect x="422" y="476" width="2" height="4" fill="#fff"/>
<rect x="422" y="476" width="1" height="7" fill="#fff"/>
<rect x="427" y="482" width="4" height="5" fill="#fff"/>
<rect x="428" y="476" width="2" height="4" fill="#fff"/>
<rect x="433" y="482" width="4" height="5" fill="#fff"/>
<rect x="434" y="476" width="1" height="4" fill="#fff"/>
<rect x="439" y="482" width="4" height="5" fill="#fff"/>
<rect x="440" y="476" width="1" height="4" fill="#fff"/>
<rect x="445" y="482" width="4" height="5" fill="#fff"/>
<rect x="446" y="476" width="1" height="4" fill="#fff"/>
<rect x="451" y="482" width="4" height="5" fill="#fff"/>
<rect x="452" y="476" width="2" height="4" fill="#fff"/>
<rect x="452" y="476" width="1" height="7" fill="#fff"/>
<rect x="457" y="482" width="4" height="5" fill="#fff"/>
<rect x="458" y="476" width="2" height="4" fill="#fff"/>
<rect x="463" y="482" width="4" height="5" fill="#fff"/>
<rect x="464" y="476" width="1" height="4" fill="#fff"/>
<rect x="469" y="482" width="4" height="5" fill="#fff"/>
<rect x="470" y="476" width="1" height="4" fill="#fff"/>
<rect x="475" y="482" width="4" height="5" fill="#fff"/>
<rect x="476" y="476" width="1" height="4" fill="#fff"/>
<rect x="481" y="482" width="4" height="5" fill="#fff"/>
<rect x="482" y="476" width="2" height="4" fill="#fff"/>
<rect x="482" y="476" width="1" height="7" fill="#fff"/>
<rect x="487" y="482" width="4" height="5" fill="#fff"/>
<rect x="488" y="476" width="2" height="4" fill="#fff"/>
<rect x="492" y="482" width="4" height="5" fill="#fff"/>
<rect x="493" y="476" width="1" height="4" fill="#fff"/>
<rect x="498" y="482" width="4" height="5" fill="#fff"/>
<rect x="499" y="476" width="1" height="4" fill="#fff"/>
<rect x="504" y="482" width="4" height="5" fill="#fff"/>
<rect x="505" y="476" width="1" height="4" fill="#fff"/>
<rect x="510" y="482" width="4" height="5" fill="#fff"/>
<rect x="511" y="476" width="2" height="4" fill="#fff"/>
<rect x="511" y="476" width="1" height="7" fill="#fff"/>
<rect x="516" y="482" width="4" height="5" fill="#fff"/>
<rect x="517" y="476" width="2" height="4" fill="#fff"/>
<rect x="522" y="482" width="4" height="5" fill="#fff"/>
<rect x="523" y="476" width="1" height="4" fill="#fff"/>
<rect x="528" y="482" width="4" height="5" fill="#fff"/>
<rect x="529" y="476" width="1" height="4" fill="#fff"/>
<rect x="334" y="493" width="226" height="19" fill="#000"/>
<rect x="335" y="494" width="224" height="17" fill="#fff"/>
<rect x="335" y="499" width="6" height="1" fill="#000"/>
<rect x="335" y="506" width="6" height="1" fill="#000"/>
<rect x="341" y="493" width="4" height="16" fill="#000"/>
<rect x="341" y="509" width="2" height="1" fill="#000"/>
<rect x="345" y="497" width="3" height="1" fill="#000"/>
<rect x="347" y="497" width="1" height="4" fill="#000"/>
<rect x="347" y="500" width="6" height="1" fill="#000"/>
<rect x="352" y="494" width="1" height="7" fill="#000"/>
<rect x="352" y="498" width="3" height="1" fill="#000"/>
<rect x="354" y="498" width="1" height="10" fill="#000"/>
<rect x="345" y="507" width="10" height="1" fill="#000"/>
<rect x="345" y="499" width="1" height="9" fill="#000"/>
<rect x="552" y="500" width="7" height="1" fill="#000"/>
<rect x="552" y="507" width="7" height="1" fill="#000"/>
<rect x="548" y="493" width="4" height="17" fill="#000"/>
<rect x="538" y="498" width="1" height="10" fill="#000"/>
<rect x="538" y="507" width="10" height="1" fill="#000"/>
<rect x="538" y="498" width="4" height="1" fill="#000"/>
<rect x="541" y="494" width="1" height="7" fill="#000"/>
<rect x="541" y="500" width="5" height="1" fill="#000"/>
<rect x="545" y="498" width="1" height="3" fill="#000"/>
<rect x="545" y="498" width="3" height="1" fill="#000"/>
<rect x="359" y="495" width="175" height="14" fill="#000"/>
<rect x="362" y="502" width="4" height="6" fill="#fff"/>
<rect x="363" y="496" width="2" height="4" fill="#fff"/>
<rect x="368" y="502" width="4" height="6" fill="#fff"/>
<rect x="369" y="496" width="2" height="4" fill="#fff"/>
<rect x="374" y="502" width="4" height="6" fill="#fff"/>
<rect x="375" y="496" width="1" height="4" fill="#fff"/>
<rect x="380" y="502" width="4" height="6" fill="#fff"/>
<rect x="381" y="496" width="1" height="4" fill="#fff"/>
<rect x="386" y="502" width="4" height="6" fill="#fff"/>
<rect x="387" y="496" width="1" height="4" fill="#fff"/>
<rect x="392" y="502" width="4" height="6" fill="#fff"/>
<rect x="393" y="496" width="2" height="4" fill="#fff"/>
<rect x="393" y="496" width="1" height="7" fill="#fff"/>
<rect x="398" y="502" width="4" height="6" fill="#fff"/>
<rect x="399" y="496" width="2" height="4" fill="#fff"/>
<rect x="404" y="502" width="4" height="6" fill="#fff"/>
<rect x="405" y="496" width="1" height="4" fill="#fff"/>
<rect x="409" y="502" width="4" height="6" fill="#fff"/>
<rect x="410" y="496" width="1" height="4" fill="#fff"/>
<rect x="415" y="502" width="4" height="6" fill="#fff"/>
<rect x="416" y="496" width="1" height="4" fill="#fff"/>
<rect x="421" y="502" width="4" height="6" fill="#fff"/>
<rect x="422" y="496" width="2" height="4" fill="#fff"/>
<rect x="422" y="496" width="1" height="7" fill="#fff"/>
<rect x="427" y="502" width="4" height="6" fill="#fff"/>
<rect x="428" y="496" width="2" height="4" fill="#fff"/>
<rect x="433" y="502" width="4" height="6" fill="#fff"/>
<rect x="434" y="496" width="1" height="4" fill="#fff"/>
<rect x="439" y="502" width="4" height="6" fill="#fff"/>
<rect x="440" y="496" width="1" height="4" fill="#fff"/>
<rect x="445" y="502" width="4" height="6" fill="#fff"/>
<rect x="446" y="496" width="1" height="4" fill="#fff"/>
<rect x="451" y="502" width="4" height="6" fill="#fff"/>
<rect x="452" y="496" width="2" height="4" fill="#fff"/>
<rect x="452" y="496" width="1" height="7" fill="#fff"/>
<rect x="457" y="502" width="4" height="6" fill="#fff"/>
<rect x="458" y="496" width="2" height="4" fill="#fff"/>
<rect x="463" y="502" width="4" height="6" fill="#fff"/>
<rect x="464" y="496" width="1" height="4" fill="#fff"/>
<rect x="469" y="502" width="4" height="6" fill="#fff"/>
<rect x="470" y="496" width="1" height="4" fill="#fff"/>
<rect x="475" y="502" width="4" height="6" fill="#fff"/>
<rect x="476" y="496" width="1" height="4" fill="#fff"/>
<rect x="481" y="502" width="4" height="6" fill="#fff"/>
<rect x="482" y="496" width="2" height="4" fill="#fff"/>
<rect x="482" y="496" width="1" height="7" fill="#fff"/>
<rect x="487" y="502" width="4" height="6" fill="#fff"/>
<rect x="488" y="496" width="2" height="4" fill="#fff"/>
<rect x="492" y="502" width="4" height="6" fill="#fff"/>
<rect x="493" y="496" width="1" height="4" fill="#fff"/>
<rect x="498" y="502" width="4" height="6" fill="#fff"/>
<rect x="499" y="496" width="1" height="4" fill="#fff"/>
<rect x="504" y="502" width="4" height="6" fill="#fff"/>
<rect x="505" y="496" width="1" height="4" fill="#fff"/>
<rect x="510" y="502" width="4" height="6" fill="#fff"/>
<rect x="511" y="496" width="2" height="4" fill="#fff"/>
<rect x="511" y="496" width="1" height="7" fill="#fff"/>
<rect x="516" y="502" width="4" height="6" fill="#fff"/>
<rect x="517" y="496" width="2" height="4" fill="#fff"/>
<rect x="522" y="502" width="4" height="6" fill="#fff"/>
<rect x="523" y="496" width="1" height="4" fill="#fff"/>
<rect x="528" y="502" width="4" height="6" fill="#fff"/>
<rect x="529" y="496" width="1" height="4" fill="#fff"/>
<rect x="607" y="61" width="43" height="127" fill="#000"/>
<rect x="647" y="64" width="1" height="4" fill="#fff"/>
<rect x="647" y="70" width="1" height="4" fill="#fff"/>
<rect x="647" y="76" width="1" height="4" fill="#fff"/>
<rect x="647" y="83" width="1" height="4" fill="#fff"/>
<rect x="647" y="89" width="1" height="4" fill="#fff"/>
<rect x="647" y="95" width="1" height="4" fill="#fff"/>
<rect x="647" y="101" width="1" height="4" fill="#fff"/>
<rect x="647" y="108" width="1" height="4" fill="#fff"/>
<rect x="647" y="114" width="1" height="4" fill="#fff"/>
<rect x="647" y="120" width="1" height="4" fill="#fff"/>
<rect x="647" y="126" width="1" height="4" fill="#fff"/>
<rect x="647" y="132" width="1" height="4" fill="#fff"/>
<rect x="647" y="139" width="1" height="4" fill="#fff"/>
<rect x="647" y="145" width="1" height="4" fill="#fff"/>
<rect x="647" y="151" width="1" height="4" fill="#fff"/>
<rect x="647" y="157" width="1" height="4" fill="#fff"/>
<rect x="647" y="164" width="1" height="4" fill="#fff"/>
<rect x="647" y="170" width="1" height="4" fill="#fff"/>
<rect x="647" y="176" width="1" height="4" fill="#fff"/>
<rect x="647" y="182" width="1" height="4" fill="#fff"/>
<rect x="614" y="117" width="28" height="14" fill="#fff"/>
<text transform="scale(0.76,1)" x="809.38 821.22 831.75" y="130" font-size="14.0">KBD</text>
<rect x="498" y="304" width="88" height="43" fill="#000"/>
<rect x="500" y="306" width="4" height="1" fill="#fff"/>
<rect x="500" y="344" width="4" height="1" fill="#fff"/>
<rect x="506" y="306" width="4" height="1" fill="#fff"/>
<rect x="506" y="344" width="4" height="1" fill="#fff"/>
<rect x="512" y="306" width="4" height="1" fill="#fff"/>
<rect x="512" y="344" width="4" height="1" fill="#fff"/>
<rect x="518" y="306" width="4" height="1" fill="#fff"/>
<rect x="518" y="344" width="4" height="1" fill="#fff"/>
<rect x="524" y="306" width="4" height="1" fill="#fff"/>
<rect x="524" y="344" width="4" height="1" fill="#fff"/>
<rect x="530" y="306" width="4" height="1" fill="#fff"/>
<rect x="530" y="344" width="4" height="1" fill="#fff"/>
<rect x="536" y="306" width="4" height="1" fill="#fff"/>
<rect x="536" y="344" width="4" height="1" fill="#fff"/>
<rect x="542" y="306" width="4" height="1" fill="#fff"/>
<rect x="542" y="344" width="4" height="1" fill="#fff"/>
<rect x="548" y="306" width="4" height="1" fill="#fff"/>
<rect x="548" y="344" width="4" height="1" fill="#fff"/>
<rect x="554" y="306" width="4" height="1" fill="#fff"/>
<rect x="554" y="344" width="4" height="1" fill="#fff"/>
<rect x="560" y="306" width="4" height="1" fill="#fff"/>
<rect x="560" y="344" width="4" height="1" fill="#fff"/>
<rect x="566" y="306" width="4" height="1" fill="#fff"/>
<rect x="566" y="344" width="4" height="1" fill="#fff"/>
<rect x="572" y="306" width="4" height="1" fill="#fff"/>
<rect x="572" y="344" width="4" height="1" fill="#fff"/>
<rect x="578" y="306" width="4" height="1" fill="#fff"/>
<rect x="578" y="344" width="4" height="1" fill="#fff"/>
<rect x="522" y="318" width="40" height="15" fill="#fff"/>
<text transform="scale(0.76,1)" x="693.59 703.98 708.55 721.74" y="331" font-size="14.0">BIOS</text>
<rect x="571" y="370" width="25" height="113" fill="#000"/>
<rect x="572" y="371" width="23" height="111" fill="#fff"/>
<rect x="573" y="371" width="1" height="111" fill="#000"/>
<rect x="587" y="371" width="1" height="111" fill="#000"/>
<rect x="574" y="376" width="8" height="8" fill="#000"/>
<rect x="575" y="377" width="6" height="6" fill="#fff"/>
<rect x="574" y="386" width="8" height="8" fill="#000"/>
<rect x="575" y="387" width="6" height="6" fill="#fff"/>
<rect x="574" y="395" width="8" height="8" fill="#000"/>
<rect x="575" y="396" width="6" height="6" fill="#fff"/>
<rect x="574" y="404" width="8" height="8" fill="#000"/>
<rect x="575" y="405" width="6" height="6" fill="#fff"/>
<rect x="574" y="414" width="8" height="8" fill="#000"/>
<rect x="575" y="415" width="6" height="6" fill="#fff"/>
<rect x="574" y="423" width="8" height="8" fill="#000"/>
<rect x="575" y="424" width="6" height="6" fill="#fff"/>
<rect x="574" y="433" width="8" height="8" fill="#000"/>
<rect x="575" y="434" width="6" height="6" fill="#fff"/>
<rect x="574" y="442" width="8" height="8" fill="#000"/>
<rect x="575" y="443" width="6" height="6" fill="#fff"/>
<rect x="574" y="452" width="8" height="8" fill="#000"/>
<rect x="575" y="453" width="6" height="6" fill="#fff"/>
<rect x="574" y="461" width="8" height="8" fill="#000"/>
<rect x="575" y="462" width="6" height="6" fill="#fff"/>
<rect x="574" y="470" width="8" height="8" fill="#000"/>
<rect x="575" y="471" width="6" height="6" fill="#fff"/>
<rect x="583" y="372" width="2" height="7" fill="#000"/>
<rect x="589" y="372" width="4" height="7" fill="#000"/>
<rect x="591" y="373" width="1" height="5" fill="#fff"/>
<rect x="587" y="379" width="4" height="1" fill="#000"/>
<rect x="583" y="381" width="2" height="7" fill="#000"/>
<rect x="589" y="381" width="4" height="7" fill="#000"/>
<rect x="591" y="382" width="1" height="5" fill="#fff"/>
<rect x="587" y="388" width="4" height="1" fill="#000"/>
<rect x="583" y="391" width="2" height="7" fill="#000"/>
<rect x="589" y="391" width="4" height="7" fill="#000"/>
<rect x="591" y="392" width="1" height="5" fill="#fff"/>
<rect x="587" y="398" width="4" height="1" fill="#000"/>
<rect x="583" y="400" width="2" height="7" fill="#000"/>
<rect x="589" y="400" width="4" height="7" fill="#000"/>
<rect x="591" y="401" width="1" height="5" fill="#fff"/>
<rect x="587" y="407" width="4" height="1" fill="#000"/>
<rect x="583" y="410" width="2" height="7" fill="#000"/>
<rect x="589" y="410" width="4" height="7" fill="#000"/>
<rect x="591" y="411" width="1" height="5" fill="#fff"/>
<rect x="587" y="417" width="4" height="1" fill="#000"/>
<rect x="583" y="419" width="2" height="7" fill="#000"/>
<rect x="589" y="419" width="4" height="7" fill="#000"/>
<rect x="591" y="420" width="1" height="5" fill="#fff"/>
<rect x="587" y="426" width="4" height="1" fill="#000"/>
<rect x="583" y="428" width="2" height="7" fill="#000"/>
<rect x="589" y="428" width="4" height="7" fill="#000"/>
<rect x="591" y="429" width="1" height="5" fill="#fff"/>
<rect x="587" y="435" width="4" height="1" fill="#000"/>
<rect x="583" y="438" width="2" height="7" fill="#000"/>
<rect x="589" y="438" width="4" height="7" fill="#000"/>
<rect x="591" y="439" width="1" height="5" fill="#fff"/>
<rect x="587" y="445" width="4" height="1" fill="#000"/>
<rect x="583" y="447" width="2" height="7" fill="#000"/>
<rect x="589" y="447" width="4" height="7" fill="#000"/>
<rect x="591" y="448" width="1" height="5" fill="#fff"/>
<rect x="587" y="454" width="4" height="1" fill="#000"/>
<rect x="583" y="457" width="2" height="7" fill="#000"/>
<rect x="589" y="457" width="4" height="7" fill="#000"/>
<rect x="591" y="458" width="1" height="5" fill="#fff"/>
<rect x="587" y="464" width="4" height="1" fill="#000"/>
<rect x="583" y="466" width="2" height="7" fill="#000"/>
<rect x="589" y="466" width="4" height="7" fill="#000"/>
<rect x="591" y="467" width="1" height="5" fill="#fff"/>
<rect x="587" y="473" width="4" height="1" fill="#000"/>
<rect x="583" y="475" width="2" height="7" fill="#000"/>
<rect x="589" y="475" width="4" height="7" fill="#000"/>
<rect x="591" y="476" width="1" height="5" fill="#fff"/>
<rect x="587" y="482" width="4" height="1" fill="#000"/>
<rect x="576" y="371" width="5" height="3" fill="#000"/>
<rect x="577" y="371" width="3" height="2" fill="#fff"/>
<rect x="576" y="479" width="5" height="3" fill="#000"/>
<rect x="577" y="480" width="3" height="2" fill="#fff"/>
<path d="M621 369.5 H637.5 C640.5 369.5 643.2 370.5 643.2 373.5 C643.2 378.0 640.9 378.0 640.9 382.5 C640.9 386.25 643.2 386.25 643.2 390 C643.2 393.75 640.9 393.75 640.9 397.5 C640.9 401.5 643.2 401.5 643.2 405.5 C643.2 409 640.5 410.5 637.5 410.5 H621 C618 410.5 615.3 409 615.3 405.5 C615.3 401.5 617.7 401.5 617.7 397.5 C617.7 393.75 615.3 393.75 615.3 390 C615.3 386.25 617.7 386.25 617.7 382.5 C617.7 378.0 615.3 378.0 615.3 373.5 C615.3 370.5 618 369.5 621 369.5 Z" fill="none" stroke="#000" stroke-width="1.1" shape-rendering="geometricPrecision"/>
<rect x="623" y="446" width="29" height="37" fill="#000"/>
<rect x="620" y="452" width="3" height="24" fill="#000"/>
<rect x="647" y="441" width="5" height="46" fill="#000"/>
<rect x="650" y="438" width="2" height="52" fill="#000"/>
<rect x="616" y="454" width="5" height="8" fill="#000"/>
<rect x="617" y="455" width="3" height="6" fill="#fff"/>
<rect x="616" y="466" width="5" height="8" fill="#000"/>
<rect x="617" y="467" width="3" height="6" fill="#fff"/>
<rect x="621" y="462" width="2" height="5" fill="#fff"/>
<rect x="59" y="36" width="7" height="19" fill="#000"/>
<rect x="60" y="37" width="5" height="1" fill="#fff"/>
<rect x="64" y="37" width="1" height="17" fill="#fff"/>
<rect x="61" y="39" width="2" height="3" fill="#fff"/>
<rect x="60" y="43" width="4" height="1" fill="#fff"/>
<rect x="60" y="48" width="4" height="2" fill="#fff"/>
<rect x="68" y="36" width="7" height="19" fill="#000"/>
<rect x="69" y="37" width="5" height="1" fill="#fff"/>
<rect x="69" y="37" width="1" height="17" fill="#fff"/>
<rect x="71" y="39" width="2" height="3" fill="#fff"/>
<rect x="70" y="43" width="4" height="1" fill="#fff"/>
<rect x="70" y="48" width="4" height="2" fill="#fff"/>
<rect x="60" y="68" width="7" height="14" fill="#000"/>
<rect x="61" y="69" width="5" height="1" fill="#fff"/>
<rect x="61" y="69" width="1" height="12" fill="#fff"/>
<rect x="61" y="75" width="5" height="1" fill="#fff"/>
<rect x="61" y="80" width="5" height="1" fill="#fff"/>
<rect x="60" y="87" width="7" height="14" fill="#000"/>
<rect x="61" y="88" width="5" height="1" fill="#fff"/>
<rect x="61" y="88" width="1" height="12" fill="#fff"/>
<rect x="61" y="94" width="5" height="1" fill="#fff"/>
<rect x="61" y="99" width="5" height="1" fill="#fff"/>
<rect x="60" y="171" width="7" height="14" fill="#000"/>
<rect x="61" y="172" width="5" height="1" fill="#fff"/>
<rect x="61" y="172" width="1" height="12" fill="#fff"/>
<rect x="61" y="178" width="5" height="1" fill="#fff"/>
<rect x="61" y="183" width="5" height="1" fill="#fff"/>
<rect x="60" y="106" width="7" height="31" fill="#000"/>
<rect x="61" y="107" width="5" height="5" fill="#fff"/>
<rect x="62" y="108" width="3" height="3" fill="#000"/>
<rect x="63" y="109" width="1" height="1" fill="#fff"/>
<rect x="61" y="117" width="5" height="1" fill="#fff"/>
<rect x="61" y="123" width="5" height="1" fill="#fff"/>
<rect x="61" y="129" width="5" height="1" fill="#fff"/>
<rect x="61" y="135" width="5" height="1" fill="#fff"/>
<rect x="60" y="141" width="7" height="26" fill="#000"/>
<rect x="61" y="142" width="5" height="5" fill="#fff"/>
<rect x="62" y="143" width="3" height="3" fill="#000"/>
<rect x="63" y="144" width="1" height="1" fill="#fff"/>
<rect x="61" y="152" width="5" height="1" fill="#fff"/>
<rect x="61" y="158" width="5" height="1" fill="#fff"/>
<rect x="61" y="164" width="5" height="1" fill="#fff"/>
<rect x="93" y="42" width="26" height="7" fill="#000"/>
<rect x="94" y="43" width="1" height="5" fill="#fff"/>
<rect x="99" y="43" width="1" height="5" fill="#fff"/>
<rect x="105" y="43" width="1" height="5" fill="#fff"/>
<rect x="112" y="43" width="1" height="5" fill="#fff"/>
<rect x="117" y="43" width="1" height="5" fill="#fff"/>
<rect x="107" y="102" width="14" height="7" fill="#000"/>
<rect x="108" y="103" width="12" height="1" fill="#fff"/>
<rect x="108" y="104" width="1" height="4" fill="#fff"/>
<rect x="114" y="104" width="1" height="3" fill="#fff"/>
<rect x="119" y="104" width="1" height="4" fill="#fff"/>
<rect x="143" y="106" width="14" height="7" fill="#000"/>
<rect x="144" y="107" width="6" height="3" fill="#fff"/>
<rect x="152" y="107" width="4" height="3" fill="#fff"/>
<rect x="227" y="83" width="20" height="7" fill="#000"/>
<rect x="233" y="84" width="2" height="5" fill="#fff"/>
<rect x="238" y="84" width="2" height="5" fill="#fff"/>
<rect x="242" y="85" width="3" height="3" fill="#fff"/>
<rect x="243" y="86" width="1" height="1" fill="#000"/>
<rect x="609" y="36" width="7" height="14" fill="#000"/>
<rect x="610" y="37" width="5" height="1" fill="#fff"/>
<rect x="614" y="37" width="1" height="12" fill="#fff"/>
<rect x="610" y="42" width="5" height="2" fill="#fff"/>
<rect x="610" y="48" width="5" height="1" fill="#fff"/>
<rect x="81" y="229" width="44" height="7" fill="#000"/>
<rect x="82" y="230" width="24" height="1" fill="#fff"/>
<rect x="82" y="230" width="1" height="5" fill="#fff"/>
<rect x="88" y="230" width="1" height="4" fill="#fff"/>
<rect x="93" y="230" width="1" height="4" fill="#fff"/>
<rect x="99" y="230" width="1" height="4" fill="#fff"/>
<rect x="105" y="230" width="1" height="5" fill="#fff"/>
<rect x="102" y="232" width="2" height="2" fill="#fff"/>
<rect x="112" y="230" width="1" height="5" fill="#fff"/>
<rect x="117" y="230" width="1" height="5" fill="#fff"/>
<rect x="119" y="231" width="3" height="3" fill="#fff"/>
<rect x="120" y="232" width="1" height="1" fill="#000"/>
<rect x="123" y="230" width="1" height="5" fill="#fff"/>
<rect x="70" y="249" width="19" height="7" fill="#000"/>
<rect x="71" y="250" width="17" height="5" fill="#fff"/>
<rect x="72" y="251" width="4" height="3" fill="#000"/>
<rect x="77" y="251" width="5" height="3" fill="#000"/>
<rect x="72" y="253" width="10" height="1" fill="#000"/>
<rect x="84" y="251" width="4" height="3" fill="#000"/>
<rect x="85" y="252" width="2" height="1" fill="#fff"/>
<rect x="105" y="265" width="13" height="7" fill="#000"/>
<rect x="108" y="266" width="1" height="5" fill="#fff"/>
<rect x="112" y="266" width="1" height="5" fill="#fff"/>
<rect x="77" y="294" width="13" height="6" fill="#000"/>
<rect x="82" y="295" width="2" height="4" fill="#fff"/>
<rect x="86" y="295" width="2" height="4" fill="#fff"/>
<rect x="85" y="329" width="27" height="7" fill="#000"/>
<rect x="88" y="330" width="1" height="5" fill="#fff"/>
<rect x="92" y="330" width="2" height="5" fill="#fff"/>
<rect x="97" y="330" width="1" height="5" fill="#fff"/>
<rect x="102" y="330" width="2" height="5" fill="#fff"/>
<rect x="107" y="330" width="2" height="5" fill="#fff"/>
<rect x="122" y="297" width="19" height="7" fill="#000"/>
<rect x="123" y="298" width="17" height="5" fill="#fff"/>
<rect x="123" y="298" width="6" height="4" fill="#000"/>
<rect x="130" y="298" width="5" height="4" fill="#000"/>
<rect x="123" y="301" width="12" height="1" fill="#000"/>
<rect x="136" y="298" width="4" height="4" fill="#000"/>
<rect x="137" y="299" width="2" height="2" fill="#fff"/>
<rect x="155" y="308" width="14" height="7" fill="#000"/>
<rect x="156" y="309" width="2" height="5" fill="#fff"/>
<rect x="161" y="309" width="1" height="5" fill="#fff"/>
<rect x="165" y="309" width="1" height="5" fill="#fff"/>
<rect x="167" y="309" width="1" height="5" fill="#fff"/>
<rect x="169" y="346" width="19" height="7" fill="#000"/>
<rect x="170" y="347" width="1" height="5" fill="#fff"/>
<rect x="175" y="347" width="1" height="5" fill="#fff"/>
<rect x="180" y="347" width="1" height="5" fill="#fff"/>
<rect x="182" y="347" width="5" height="5" fill="#fff"/>
<rect x="183" y="348" width="3" height="3" fill="#000"/>
<rect x="620" y="501" width="26" height="7" fill="#000"/>
<rect x="621" y="502" width="24" height="5" fill="#fff"/>
<rect x="622" y="503" width="5" height="3" fill="#000"/>
<rect x="628" y="503" width="5" height="3" fill="#000"/>
<rect x="634" y="503" width="5" height="3" fill="#000"/>
<rect x="640" y="503" width="5" height="3" fill="#000"/>
<rect x="641" y="504" width="2" height="1" fill="#fff"/>
<rect x="622" y="505" width="17" height="1" fill="#000"/>
<g shape-rendering="geometricPrecision">
<polygon points="44,39.5 45.5,39.5 51,44.0 59,44.0 59,47.0 51,47.0 45.5,51.5 44,51.5" fill="#000"/>
</g>
<rect x="3" y="36" width="42" height="19" rx="3" ry="3" fill="#000" shape-rendering="geometricPrecision"/>
<rect x="5" y="38" width="37" height="14" rx="1.5" ry="1.5" fill="#fff" shape-rendering="geometricPrecision"/>
<text transform="scale(0.76,1)" x="10.30 19.90 31.05 41.41" y="50" font-size="14.0">JP32</text>
<g shape-rendering="geometricPrecision">
<polygon points="44,71.8 45.5,71.8 53,74.0 60,74.0 60,77.0 53,77.0 45.5,79.2 44,79.2" fill="#000"/>
</g>
<rect x="4" y="66" width="41" height="19" rx="3" ry="3" fill="#000" shape-rendering="geometricPrecision"/>
<rect x="6" y="68" width="36" height="14" rx="1.5" ry="1.5" fill="#fff" shape-rendering="geometricPrecision"/>
<text transform="scale(0.76,1)" x="11.62 21.22 32.19 43.10" y="80" font-size="14.0">JP24</text>
<g shape-rendering="geometricPrecision">
<polygon points="44,90.8 45.5,90.8 53,93.0 60,93.0 60,96.0 53,96.0 45.5,98.2 44,98.2" fill="#000"/>
</g>
<rect x="5" y="85" width="40" height="19" rx="3" ry="3" fill="#000" shape-rendering="geometricPrecision"/>
<rect x="7" y="87" width="35" height="14" rx="1.5" ry="1.5" fill="#fff" shape-rendering="geometricPrecision"/>
<text transform="scale(0.76,1)" x="12.93 22.54 33.51 44.13" y="99" font-size="14.0">JP28</text>
<g shape-rendering="geometricPrecision">
<polygon points="45,115.8 46.5,115.8 54,118.0 60,118.0 60,121.0 54,121.0 46.5,123.2 45,123.2" fill="#000"/>
</g>
<rect x="20" y="110" width="26" height="19" rx="3" ry="3" fill="#000" shape-rendering="geometricPrecision"/>
<rect x="22" y="112" width="21" height="14" rx="1.5" ry="1.5" fill="#fff" shape-rendering="geometricPrecision"/>
<text transform="scale(0.76,1)" x="33.99 42.86" y="124" font-size="14.0">J5</text>
<g shape-rendering="geometricPrecision">
<polygon points="45,149.8 46.5,149.8 54,152.0 60,152.0 60,155.0 54,155.0 46.5,157.2 45,157.2" fill="#000"/>
</g>
<rect x="20" y="144" width="26" height="18" rx="3" ry="3" fill="#000" shape-rendering="geometricPrecision"/>
<rect x="22" y="146" width="22" height="14" rx="1.5" ry="1.5" fill="#fff" shape-rendering="geometricPrecision"/>
<text transform="scale(0.76,1)" x="33.99 42.71" y="157" font-size="14.0">J6</text>
<g shape-rendering="geometricPrecision">
<polygon points="45,174.8 46.5,174.8 54,177.0 60,177.0 60,180.0 54,180.0 46.5,182.2 45,182.2" fill="#000"/>
</g>
<rect x="10" y="169" width="36" height="19" rx="3" ry="3" fill="#000" shape-rendering="geometricPrecision"/>
<rect x="12" y="171" width="31" height="14" rx="1.5" ry="1.5" fill="#fff" shape-rendering="geometricPrecision"/>
<text transform="scale(0.76,1)" x="20.42 31.52 47.62" y="183" font-size="14.0">SW1</text>
<g shape-rendering="geometricPrecision">
<polygon points="65,228.8 66.5,228.8 74,231.0 81,231.0 81,234.0 74,234.0 66.5,236.2 65,236.2" fill="#000"/>
</g>
<rect x="24" y="223" width="42" height="19" rx="3" ry="3" fill="#000" shape-rendering="geometricPrecision"/>
<rect x="26" y="225" width="37" height="14" rx="1.5" ry="1.5" fill="#fff" shape-rendering="geometricPrecision"/>
<text transform="scale(0.76,1)" x="40.57 50.17 60.78 70.35" y="237" font-size="14.0">JP12</text>
<g shape-rendering="geometricPrecision">
<polygon points="89,264.8 90.5,264.8 98,267.0 105,267.0 105,270.0 98,270.0 90.5,272.2 89,272.2" fill="#000"/>
</g>
<rect x="48" y="259" width="42" height="19" rx="3" ry="3" fill="#000" shape-rendering="geometricPrecision"/>
<rect x="50" y="261" width="37" height="14" rx="1.5" ry="1.5" fill="#fff" shape-rendering="geometricPrecision"/>
<text transform="scale(0.76,1)" x="69.51 79.12 89.07 98.80" y="273" font-size="14.0">JP10</text>
<g shape-rendering="geometricPrecision">
<polygon points="61,293.8 62.5,293.8 70,296.0 77,296.0 77,299.0 70,299.0 62.5,301.2 61,301.2" fill="#000"/>
</g>
<rect x="20" y="288" width="42" height="19" rx="3" ry="3" fill="#000" shape-rendering="geometricPrecision"/>
<rect x="22" y="290" width="37" height="14" rx="1.5" ry="1.5" fill="#fff" shape-rendering="geometricPrecision"/>
<text transform="scale(0.76,1)" x="32.67 42.27 53.25 63.94" y="302" font-size="14.0">JP23</text>
<g shape-rendering="geometricPrecision">
<polygon points="70,328.8 71.5,328.8 79,331.0 85,331.0 85,334.0 79,334.0 71.5,336.2 70,336.2" fill="#000"/>
</g>
<rect x="29" y="322" width="42" height="19" rx="3" ry="3" fill="#000" shape-rendering="geometricPrecision"/>
<rect x="31" y="324" width="37" height="14" rx="1.5" ry="1.5" fill="#fff" shape-rendering="geometricPrecision"/>
<text transform="scale(0.76,1)" x="44.51 54.12 65.09 75.62" y="336" font-size="14.0">JP22</text>
<g shape-rendering="geometricPrecision">
<polygon points="594,39.8 595.5,39.8 603,42.0 609,42.0 609,45.0 603,45.0 595.5,47.2 594,47.2" fill="#000"/>
</g>
<rect x="559" y="34" width="36" height="18" rx="3" ry="3" fill="#000" shape-rendering="geometricPrecision"/>
<rect x="561" y="36" width="32" height="14" rx="1.5" ry="1.5" fill="#fff" shape-rendering="geometricPrecision"/>
<text transform="scale(0.76,1)" x="743.20 752.80 764.73" y="47" font-size="14.0">JP1</text>
<g shape-rendering="geometricPrecision">
<polygon points="605,500.8 606.5,500.8 615,503.0 620,503.0 620,506.0 615,506.0 606.5,508.2 605,508.2" fill="#000"/>
</g>
<rect x="580" y="495" width="26" height="18" rx="3" ry="3" fill="#000" shape-rendering="geometricPrecision"/>
<rect x="582" y="497" width="22" height="14" rx="1.5" ry="1.5" fill="#fff" shape-rendering="geometricPrecision"/>
<text transform="scale(0.76,1)" x="770.83 779.86" y="508" font-size="14.0">J1</text>
<g shape-rendering="geometricPrecision">
<polygon points="134,37.5 132.5,37.5 125,44.0 119,44.0 119,47.0 125,47.0 132.5,53.5 134,53.5" fill="#000"/>
</g>
<rect x="133" y="36" width="36" height="19" rx="3" ry="3" fill="#000" shape-rendering="geometricPrecision"/>
<rect x="135" y="38" width="32" height="14" rx="1.5" ry="1.5" fill="#fff" shape-rendering="geometricPrecision"/>
<text transform="scale(0.76,1)" x="183.99 192.72 202.74" y="50" font-size="14.0">J20</text>
<g shape-rendering="geometricPrecision">
<polygon points="262,82.8 260.5,82.8 249,85.0 247,85.0 247,88.0 249,88.0 260.5,90.2 262,90.2" fill="#000"/>
</g>
<rect x="261" y="78" width="41" height="18" rx="3" ry="3" fill="#000" shape-rendering="geometricPrecision"/>
<rect x="263" y="80" width="37" height="14" rx="1.5" ry="1.5" fill="#fff" shape-rendering="geometricPrecision"/>
<text transform="scale(0.76,1)" x="351.09 361.35 371.39 381.69" y="91" font-size="14.0">JP40</text>
<g shape-rendering="geometricPrecision">
<polygon points="174,105.5 172.5,105.5 164,108.0 157,108.0 157,111.0 164,111.0 172.5,113.5 174,113.5" fill="#000"/>
</g>
<rect x="173" y="100" width="40" height="18" rx="3" ry="3" fill="#000" shape-rendering="geometricPrecision"/>
<rect x="175" y="102" width="36" height="14" rx="1.5" ry="1.5" fill="#fff" shape-rendering="geometricPrecision"/>
<text transform="scale(0.76,1)" x="232.67 242.27 252.88 263.28" y="113" font-size="14.0">JP13</text>
<g shape-rendering="geometricPrecision">
<polygon points="140,228.2 138.5,228.2 128,231.0 125,231.0 125,234.0 128,234.0 138.5,236.8 140,236.8" fill="#000"/>
</g>
<rect x="139" y="224" width="42" height="19" rx="3" ry="3" fill="#000" shape-rendering="geometricPrecision"/>
<rect x="141" y="226" width="38" height="14" rx="1.5" ry="1.5" fill="#fff" shape-rendering="geometricPrecision"/>
<text transform="scale(0.76,1)" x="190.57 200.17 210.78 219.99" y="237" font-size="14.0">JP11</text>
<g shape-rendering="geometricPrecision">
<polygon points="105,246.0 103.5,246.0 93,251.0 89,251.0 89,254.0 93,254.0 103.5,259.0 105,259.0" fill="#000"/>
</g>
<rect x="104" y="243" width="41" height="18" rx="3" ry="3" fill="#000" shape-rendering="geometricPrecision"/>
<rect x="106" y="245" width="37" height="14" rx="1.5" ry="1.5" fill="#fff" shape-rendering="geometricPrecision"/>
<text transform="scale(0.76,1)" x="141.88 151.48 161.31 171.71" y="256" font-size="14.0">JP39</text>
<g shape-rendering="geometricPrecision">
<polygon points="127,328.5 125.5,328.5 114.5,331.0 112,331.0 112,334.0 114.5,334.0 125.5,336.5 127,336.5" fill="#000"/>
</g>
<rect x="126" y="324" width="42" height="18" rx="3" ry="3" fill="#000" shape-rendering="geometricPrecision"/>
<rect x="128" y="326" width="38" height="14" rx="1.5" ry="1.5" fill="#fff" shape-rendering="geometricPrecision"/>
<text transform="scale(0.76,1)" x="173.46 183.06 193.67 202.73" y="337" font-size="14.0">JP15</text>
<g shape-rendering="geometricPrecision">
<polygon points="184,307.0 182.5,307.0 172.5,310.0 169,310.0 169,313.0 172.5,313.0 182.5,316.0 184,316.0" fill="#000"/>
</g>
<rect x="183" y="303" width="36" height="18" rx="3" ry="3" fill="#000" shape-rendering="geometricPrecision"/>
<rect x="185" y="305" width="32" height="14" rx="1.5" ry="1.5" fill="#fff" shape-rendering="geometricPrecision"/>
<text transform="scale(0.76,1)" x="247.14 256.09 266.45" y="316" font-size="14.0">JP9</text>
<g shape-rendering="geometricPrecision">
<polygon points="204,346.0 202.5,346.0 191,348.0 188,348.0 188,351.0 191,351.0 202.5,353.0 204,353.0" fill="#000"/>
</g>
<rect x="203" y="340" width="35" height="19" rx="3" ry="3" fill="#000" shape-rendering="geometricPrecision"/>
<rect x="205" y="342" width="31" height="14" rx="1.5" ry="1.5" fill="#fff" shape-rendering="geometricPrecision"/>
<text transform="scale(0.76,1)" x="273.46 283.06 292.71" y="354" font-size="14.0">JP7</text>
<g shape-rendering="geometricPrecision">
<polygon points="41.7,42.1 45,42.1 48,45.5 45,48.9 41.7,48.9" fill="#fff"/>
<polygon points="41.7,74.0 45,74.0 46.2,74.95 50.5,75.0 50.5,76.0 46.2,76.05 45,77.0 41.7,77.0" fill="#fff"/>
<polygon points="41.7,93.0 45,93.0 46.2,93.95 50.5,94.0 50.5,95.0 46.2,95.05 45,96.0 41.7,96.0" fill="#fff"/>
<polygon points="42.7,118.0 46,118.0 47.2,118.95 51.5,119.0 51.5,120.0 47.2,120.05 46,121.0 42.7,121.0" fill="#fff"/>
<polygon points="42.7,152.0 46,152.0 47.2,152.95 51.5,153.0 51.5,154.0 47.2,154.05 46,155.0 42.7,155.0" fill="#fff"/>
<polygon points="42.7,177.0 46,177.0 47.2,177.95 51.5,178.0 51.5,179.0 47.2,179.05 46,180.0 42.7,180.0" fill="#fff"/>
<polygon points="62.7,231.0 66,231.0 67.2,231.95 71.5,232.0 71.5,233.0 67.2,233.05 66,234.0 62.7,234.0" fill="#fff"/>
<polygon points="86.7,267.0 90,267.0 91.2,267.95 95.5,268.0 95.5,269.0 91.2,269.05 90,270.0 86.7,270.0" fill="#fff"/>
<polygon points="58.7,296.0 62,296.0 63.2,296.95 67.5,297.0 67.5,298.0 63.2,298.05 62,299.0 58.7,299.0" fill="#fff"/>
<polygon points="67.7,331.0 71,331.0 72.2,331.95 76.5,332.0 76.5,333.0 72.2,333.05 71,334.0 67.7,334.0" fill="#fff"/>
<polygon points="591.7,42.0 595,42.0 596.2,42.95 600.5,43.0 600.5,44.0 596.2,44.05 595,45.0 591.7,45.0" fill="#fff"/>
<polygon points="602.7,503.0 606,503.0 607.2,503.95 612.5,504.0 612.5,505.0 607.2,505.05 606,506.0 602.7,506.0" fill="#fff"/>
<polygon points="136.3,40.1 133,40.1 128,45.5 133,50.9 136.3,50.9" fill="#fff"/>
<polygon points="264.3,85.0 261,85.0 259.8,85.95 251.5,86.0 251.5,87.0 259.8,87.05 261,88.0 264.3,88.0" fill="#fff"/>
<polygon points="176.3,108.0 173,108.0 171.8,108.95 166.5,109.0 166.5,110.0 171.8,110.05 173,111.0 176.3,111.0" fill="#fff"/>
<polygon points="142.3,231.0 139,231.0 137.8,231.95 130.5,232.0 130.5,233.0 137.8,233.05 139,234.0 142.3,234.0" fill="#fff"/>
<polygon points="107.3,248.6 104,248.6 96,252.5 104,256.4 107.3,256.4" fill="#fff"/>
<polygon points="129.3,331.0 126,331.0 124.8,331.95 117.0,332.0 117.0,333.0 124.8,333.05 126,334.0 129.3,334.0" fill="#fff"/>
<polygon points="186.3,309.6 183,309.6 175.5,311.5 183,313.4 186.3,313.4" fill="#fff"/>
<polygon points="206.3,348.0 203,348.0 201.8,348.95 193.5,349.0 193.5,350.0 201.8,350.05 203,351.0 206.3,351.0" fill="#fff"/>
</g>
<g shape-rendering="geometricPrecision">
<polygon points="62,28.5 66.5,25.5 75,36 69.5,36" fill="#000"/>
<line x1="64.6" y1="29" x2="71.6" y2="36.2" stroke="#fff" stroke-width="0.9"/>
</g>
<rect x="25" y="10" width="42" height="19" rx="3" ry="3" fill="#000" shape-rendering="geometricPrecision"/>
<rect x="27" y="12" width="37" height="15" rx="1.5" ry="1.5" fill="#fff" shape-rendering="geometricPrecision"/>
<text transform="scale(0.76,1)" x="39.25 48.85 59.83 70.39" y="24" font-size="14.0">JP29</text>
<polygon points="148,290 151,292 142,302 139,300" fill="#000"/>
<rect x="148" y="274" width="41" height="19" rx="3" ry="3" fill="#000" shape-rendering="geometricPrecision"/>
<rect x="150" y="276" width="37" height="14" rx="1.5" ry="1.5" fill="#fff" shape-rendering="geometricPrecision"/>
<text transform="scale(0.76,1)" x="201.09 210.69 220.65 232.18" y="288" font-size="14.0">JP16</text>
<g shape-rendering="geometricPrecision">
<polygon points="104,31 110,35 103,42.5 95.5,42.5" fill="#000"/>
<polygon points="105,34 108.2,34 100.5,42.5 98.5,42.5" fill="#fff"/>
</g>
<rect x="104" y="18" width="35" height="18" rx="3" ry="3" fill="#000" shape-rendering="geometricPrecision"/>
<rect x="106" y="20" width="31" height="14" rx="1.5" ry="1.5" fill="#fff" shape-rendering="geometricPrecision"/>
<text transform="scale(0.76,1)" x="144.51 153.91 164.07" y="31" font-size="14.0">J21</text>
<rect x="105.5" y="33" width="2.5" height="1.5" fill="#fff"/>
<polygon points="117,108 120,108 128,118 126,120" fill="#000"/>
<rect x="124" y="117" width="42" height="18" fill="#000"/>
<rect x="126" y="119" width="37" height="14" fill="#fff"/>
<line x1="121" y1="110" x2="127" y2="118.5" stroke="#fff" stroke-width="0.8" shape-rendering="geometricPrecision"/>
<text transform="scale(0.76,1)" x="170.83 180.43 190.38 200.71" y="130" font-size="14.0">JP18</text>
<rect x="151" y="13" width="33" height="16" fill="#000"/>
<rect x="153" y="14" width="29" height="14" rx="2" fill="#fff" shape-rendering="geometricPrecision"/>
<text transform="scale(0.76,1)" x="204.63 217.27 226.57" y="26" font-size="14.0">SL1</text>
<rect x="151" y="58" width="33" height="16" fill="#000"/>
<rect x="153" y="59" width="29" height="14" rx="2" fill="#fff" shape-rendering="geometricPrecision"/>
<text transform="scale(0.76,1)" x="204.63 217.27 226.93" y="71" font-size="14.0">SL2</text>
<rect x="137" y="433" width="50" height="16" fill="#000"/>
<rect x="139" y="434" width="46" height="14" fill="#fff"/>
<rect x="159" y="433" width="6" height="1" fill="#fff"/>
<rect x="159" y="448" width="6" height="1" fill="#fff"/>
<text transform="scale(0.76,1)" x="183.50 198.00 207.18 221.22 233.06" y="445" font-size="14.0">CACHE</text>
<rect x="115" y="77" width="34" height="22" fill="#000"/>
<rect x="119" y="78" width="2" height="1" fill="#fff"/>
<rect x="119" y="97" width="2" height="1" fill="#fff"/>
<rect x="123" y="78" width="2" height="1" fill="#fff"/>
<rect x="123" y="97" width="2" height="1" fill="#fff"/>
<rect x="127" y="78" width="2" height="1" fill="#fff"/>
<rect x="127" y="97" width="2" height="1" fill="#fff"/>
<rect x="131" y="78" width="2" height="1" fill="#fff"/>
<rect x="131" y="97" width="2" height="1" fill="#fff"/>
<rect x="135" y="78" width="2" height="1" fill="#fff"/>
<rect x="135" y="97" width="2" height="1" fill="#fff"/>
<rect x="139" y="78" width="2" height="1" fill="#fff"/>
<rect x="139" y="97" width="2" height="1" fill="#fff"/>
<rect x="143" y="78" width="2" height="1" fill="#fff"/>
<rect x="143" y="97" width="2" height="1" fill="#fff"/>
<rect x="118" y="80" width="28" height="16" rx="2" fill="#fff" shape-rendering="geometricPrecision"/>
<text transform="scale(0.76,1)" x="155.50 168.10 178.42" y="92" font-size="14.0">U43</text>
<rect x="101" y="347" width="35" height="22" fill="#000"/>
<rect x="105" y="348" width="2" height="1" fill="#fff"/>
<rect x="105" y="367" width="2" height="1" fill="#fff"/>
<rect x="109" y="348" width="2" height="1" fill="#fff"/>
<rect x="109" y="367" width="2" height="1" fill="#fff"/>
<rect x="113" y="348" width="2" height="1" fill="#fff"/>
<rect x="113" y="367" width="2" height="1" fill="#fff"/>
<rect x="117" y="348" width="2" height="1" fill="#fff"/>
<rect x="117" y="367" width="2" height="1" fill="#fff"/>
<rect x="121" y="348" width="2" height="1" fill="#fff"/>
<rect x="121" y="367" width="2" height="1" fill="#fff"/>
<rect x="125" y="348" width="2" height="1" fill="#fff"/>
<rect x="125" y="367" width="2" height="1" fill="#fff"/>
<rect x="129" y="348" width="2" height="1" fill="#fff"/>
<rect x="129" y="367" width="2" height="1" fill="#fff"/>
<rect x="104" y="350" width="29" height="16" rx="2" fill="#fff" shape-rendering="geometricPrecision"/>
<text transform="scale(0.76,1)" x="139.17 149.97 161.14" y="363" font-size="14.0">TAG</text>
<rect x="125" y="157" width="33" height="18" rx="3" ry="3" fill="#000" shape-rendering="geometricPrecision"/>
<rect x="127" y="159" width="29" height="14" rx="1.5" ry="1.5" fill="#fff" shape-rendering="geometricPrecision"/>
<text transform="scale(0.76,1)" x="169.02 181.75 193.66" y="171" font-size="14.0">CPU</text>
<rect x="417" y="383" width="60" height="18" rx="3" ry="3" fill="#000" shape-rendering="geometricPrecision"/>
<rect x="419" y="385" width="56" height="14" rx="1.5" ry="1.5" fill="#fff" shape-rendering="geometricPrecision"/>
<text transform="scale(0.76,1)" x="556.75 568.39 579.12 591.62 602.63 609.98" y="397" font-size="14.0">BANK 0</text>
<rect x="417" y="464" width="60" height="18" rx="3" ry="3" fill="#000" shape-rendering="geometricPrecision"/>
<rect x="419" y="466" width="56" height="14" rx="1.5" ry="1.5" fill="#fff" shape-rendering="geometricPrecision"/>
<text transform="scale(0.76,1)" x="556.75 568.39 579.12 591.62 602.63 610.78" y="478" font-size="14.0">BANK 1</text>
<rect x="109" y="402" width="18" height="76" rx="3" fill="#000" shape-rendering="geometricPrecision"/>
<rect x="110" y="403" width="14" height="74" rx="2" fill="#fff" shape-rendering="geometricPrecision"/>
<text transform="scale(0.76,1)" x="148.85 148.66 148.85 148.85 150.25" y="417.0 431.5 446.0 460.5 475.0" font-size="14.0">BANK1</text>
<rect x="199" y="402" width="17" height="76" rx="3" fill="#000" shape-rendering="geometricPrecision"/>
<rect x="200" y="403" width="14" height="74" rx="2" fill="#fff" shape-rendering="geometricPrecision"/>
<text transform="scale(0.76,1)" x="267.27 267.08 267.27 267.27 267.88" y="417.0 431.5 446.0 460.5 475.0" font-size="14.0">BANK0</text>
<text transform="scale(0.85,1)" x="560.17 570.76 579.38 587.66 596.00 604.18" y="47" font-size="12.3">MH2938</text>
</svg>
</body></html>
